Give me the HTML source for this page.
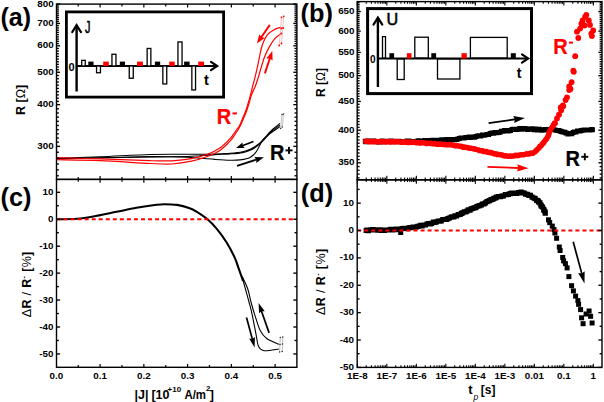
<!DOCTYPE html><html><head><meta charset="utf-8"><style>html,body{margin:0;padding:0;background:#fff;}svg{display:block;font-family:"Liberation Sans",sans-serif;}</style></head><body>
<svg width="604" height="402" viewBox="0 0 604 402" font-family="Liberation Sans, sans-serif">
<rect width="604" height="402" fill="#fff"/>
<path d="M57.00,158.40 C64.17,158.13 84.50,157.45 100.00,156.80 C115.50,156.15 136.67,154.93 150.00,154.50 C163.33,154.07 171.67,154.23 180.00,154.20 C188.33,154.17 194.17,154.33 200.00,154.30 C205.83,154.27 210.00,154.17 215.00,154.00 C220.00,153.83 225.42,153.67 230.00,153.30 C234.58,152.93 238.97,152.55 242.50,151.80 C246.03,151.05 249.03,149.72 251.20,148.80 C253.37,147.88 254.10,147.25 255.50,146.30 C256.90,145.35 258.42,144.10 259.60,143.10 C260.78,142.10 261.45,141.50 262.60,140.30 C263.75,139.10 265.27,137.28 266.50,135.90 C267.73,134.52 268.82,133.23 270.00,132.00 C271.18,130.77 271.93,129.93 273.60,128.50 C275.27,127.07 278.93,124.25 280.00,123.40" fill="none" stroke="#000" stroke-width="1.1"/>
<path d="M57.00,158.70 C64.17,158.53 84.50,158.05 100.00,157.70 C115.50,157.35 136.67,156.75 150.00,156.60 C163.33,156.45 171.67,156.95 180.00,156.80 C188.33,156.65 194.17,156.07 200.00,155.70 C205.83,155.33 210.00,154.90 215.00,154.60 C220.00,154.30 225.42,154.23 230.00,153.90 C234.58,153.57 238.97,153.30 242.50,152.60 C246.03,151.90 249.03,150.60 251.20,149.70 C253.37,148.80 254.10,148.15 255.50,147.20 C256.90,146.25 258.42,145.00 259.60,144.00 C260.78,143.00 261.45,142.37 262.60,141.20 C263.75,140.03 265.27,138.33 266.50,137.00 C267.73,135.67 268.82,134.40 270.00,133.20 C271.18,132.00 271.93,131.17 273.60,129.80 C275.27,128.43 278.93,125.80 280.00,125.00" fill="none" stroke="#000" stroke-width="1.1"/>
<path d="M57.00,159.00 C64.17,158.83 84.50,158.33 100.00,158.00 C115.50,157.67 136.67,157.18 150.00,157.00 C163.33,156.82 171.67,156.70 180.00,156.90 C188.33,157.10 194.17,157.78 200.00,158.20 C205.83,158.62 210.00,159.07 215.00,159.40 C220.00,159.73 225.83,160.12 230.00,160.20 C234.17,160.28 237.10,160.18 240.00,159.90 C242.90,159.62 245.57,159.02 247.40,158.50 C249.23,157.98 249.85,157.53 251.00,156.80 C252.15,156.07 253.27,155.20 254.30,154.10 C255.33,153.00 256.32,151.62 257.20,150.20 C258.08,148.78 258.88,146.93 259.60,145.60 C260.32,144.27 260.77,143.37 261.50,142.20 C262.23,141.03 262.60,140.03 264.00,138.60 C265.40,137.17 268.07,135.03 269.90,133.60 C271.73,132.17 273.32,131.17 275.00,130.00 C276.68,128.83 279.17,127.17 280.00,126.60" fill="none" stroke="#000" stroke-width="1.1"/>
<path d="M57.00,157.70 C64.17,157.90 84.50,158.40 100.00,158.90 C115.50,159.40 138.00,160.38 150.00,160.70 C162.00,161.02 165.10,161.13 172.00,160.80 C178.90,160.47 185.40,159.83 191.40,158.70 C197.40,157.57 203.32,155.75 208.00,154.00 C212.68,152.25 216.00,150.58 219.50,148.20 C223.00,145.82 226.67,142.03 229.00,139.70 C231.33,137.37 232.27,135.82 233.50,134.20 C234.73,132.58 235.43,131.37 236.40,130.00 C237.37,128.63 238.30,127.83 239.30,126.00 C240.30,124.17 241.40,121.33 242.40,119.00 C243.40,116.67 244.35,114.58 245.30,112.00 C246.25,109.42 247.23,106.37 248.10,103.50 C248.97,100.63 249.73,97.72 250.50,94.80 C251.27,91.88 251.95,88.90 252.70,86.00 C253.45,83.10 254.22,80.53 255.00,77.40 C255.78,74.27 256.58,70.97 257.40,67.20 C258.22,63.43 259.07,58.53 259.90,54.80 C260.73,51.07 261.17,48.12 262.40,44.80 C263.63,41.48 265.23,37.47 267.30,34.90 C269.37,32.33 272.52,30.65 274.80,29.40 C277.08,28.15 279.97,27.73 281.00,27.40" fill="none" stroke="#f00" stroke-width="1.2"/>
<path d="M57.00,159.70 C64.17,159.85 84.50,159.97 100.00,160.60 C115.50,161.23 138.00,162.93 150.00,163.50 C162.00,164.07 165.10,164.38 172.00,164.00 C178.90,163.62 185.40,162.50 191.40,161.20 C197.40,159.90 203.32,157.95 208.00,156.20 C212.68,154.45 216.00,153.03 219.50,150.70 C223.00,148.37 226.67,144.53 229.00,142.20 C231.33,139.87 232.13,138.57 233.50,136.70 C234.87,134.83 236.08,132.78 237.20,131.00 C238.32,129.22 239.18,128.00 240.20,126.00 C241.22,124.00 242.30,121.33 243.30,119.00 C244.30,116.67 245.25,114.58 246.20,112.00 C247.15,109.42 248.12,106.37 249.00,103.50 C249.88,100.63 250.43,97.72 251.50,94.80 C252.57,91.88 254.27,88.90 255.40,86.00 C256.53,83.10 257.45,80.12 258.30,77.40 C259.15,74.68 259.40,73.27 260.50,69.70 C261.60,66.13 263.35,59.93 264.90,56.00 C266.45,52.07 268.15,49.00 269.80,46.10 C271.45,43.20 272.93,40.68 274.80,38.60 C276.67,36.52 279.97,34.43 281.00,33.60" fill="none" stroke="#f00" stroke-width="1.2"/>
<line x1="281.50" y1="17.30" x2="279.20" y2="45.50" stroke="#f2b8b8" stroke-width="0.9" />
<line x1="283.70" y1="16.30" x2="281.50" y2="43.50" stroke="#f2b8b8" stroke-width="0.9" />
<circle cx="281.5" cy="17.3" r="0.9" fill="#f00"/>
<circle cx="279.2" cy="45.5" r="0.9" fill="#f00"/>
<circle cx="283.7" cy="16.3" r="0.9" fill="#f00"/>
<circle cx="281.5" cy="43.5" r="0.9" fill="#f00"/>
<circle cx="281.4" cy="28.5" r="0.9" fill="#f00"/>
<circle cx="283.2" cy="28.0" r="0.9" fill="#f00"/>
<circle cx="281.3" cy="33.5" r="0.9" fill="#f00"/>
<line x1="282.00" y1="114.50" x2="280.60" y2="128.50" stroke="#bbb" stroke-width="0.9" />
<line x1="283.60" y1="114.00" x2="282.30" y2="127.00" stroke="#bbb" stroke-width="0.9" />
<circle cx="282.0" cy="114.5" r="0.8" fill="#333"/>
<circle cx="280.6" cy="128.5" r="0.8" fill="#333"/>
<circle cx="283.6" cy="114.0" r="0.8" fill="#333"/>
<circle cx="282.3" cy="127.0" r="0.8" fill="#333"/>
<line x1="253.50" y1="141.50" x2="242.23" y2="145.71" stroke="#000" stroke-width="1.7" />
<polygon points="236.10,148.00 242.54,142.39 242.69,145.54 244.64,148.01" fill="#000"/>
<line x1="237.00" y1="165.90" x2="256.84" y2="159.48" stroke="#000" stroke-width="1.7" />
<polygon points="263.90,157.20 256.29,162.92 256.36,159.64 254.38,157.02" fill="#000"/>
<line x1="269.80" y1="24.90" x2="261.11" y2="37.49" stroke="#f00" stroke-width="1.9" />
<polygon points="256.90,43.60 259.29,34.32 261.40,37.08 264.73,38.07" fill="#f00"/>
<line x1="264.90" y1="73.40" x2="269.97" y2="58.05" stroke="#f00" stroke-width="1.9" />
<polygon points="272.30,51.00 272.61,60.58 269.82,58.52 266.34,58.51" fill="#f00"/>
<path d="M57.00,219.20 C60.32,219.13 70.27,219.37 76.90,218.80 C83.53,218.23 90.18,216.97 96.80,215.80 C103.42,214.63 109.98,213.13 116.60,211.80 C123.22,210.47 129.87,208.97 136.50,207.80 C143.13,206.63 151.75,205.40 156.40,204.80 C161.05,204.20 160.97,204.18 164.40,204.20 C167.83,204.22 172.90,204.28 177.00,204.90 C181.10,205.52 185.68,206.75 189.00,207.90 C192.32,209.05 193.92,209.98 196.90,211.80 C199.88,213.62 203.58,215.97 206.90,218.80 C210.22,221.63 213.48,224.82 216.80,228.80 C220.12,232.78 223.82,237.90 226.80,242.70 C229.78,247.50 232.75,253.38 234.70,257.60 C236.65,261.82 237.37,264.85 238.50,268.00 C239.63,271.15 240.75,274.33 241.50,276.50 C242.25,278.67 242.75,280.25 243.00,281.00" fill="none" stroke="#000" stroke-width="2.1"/>
<path d="M241.90,276.50 C242.15,277.33 242.77,279.25 243.40,281.50 C244.03,283.75 244.77,286.58 245.70,290.00 C246.63,293.42 247.93,297.95 249.00,302.00 C250.07,306.05 250.90,308.75 252.10,314.30 C253.30,319.85 255.12,329.92 256.20,335.30 C257.28,340.68 257.25,344.03 258.60,346.60 C259.95,349.17 260.93,350.30 264.30,350.70 C267.67,351.10 276.38,349.28 278.80,349.00" fill="none" stroke="#000" stroke-width="1.1"/>
<path d="M242.30,276.50 C242.68,277.33 243.63,279.25 244.60,281.50 C245.57,283.75 247.03,286.58 248.10,290.00 C249.17,293.42 249.92,297.95 251.00,302.00 C252.08,306.05 253.07,309.55 254.60,314.30 C256.13,319.05 258.18,326.47 260.20,330.50 C262.22,334.53 263.60,336.22 266.70,338.50 C269.80,340.78 276.78,343.25 278.80,344.20" fill="none" stroke="#000" stroke-width="1.1"/>
<line x1="280.30" y1="337.50" x2="279.60" y2="352.00" stroke="#bbb" stroke-width="0.9" />
<line x1="282.80" y1="337.00" x2="282.20" y2="351.50" stroke="#bbb" stroke-width="0.9" />
<circle cx="280.3" cy="337.5" r="0.8" fill="#333"/>
<circle cx="279.6" cy="352.0" r="0.8" fill="#333"/>
<circle cx="282.8" cy="337.0" r="0.8" fill="#333"/>
<circle cx="282.2" cy="351.5" r="0.8" fill="#333"/>
<circle cx="280.0" cy="344.5" r="0.8" fill="#333"/>
<circle cx="282.5" cy="344.0" r="0.8" fill="#333"/>
<line x1="246.50" y1="317.50" x2="252.43" y2="339.39" stroke="#000" stroke-width="1.7" />
<polygon points="254.60,347.40 249.09,338.53 252.30,338.91 254.88,336.96" fill="#000"/>
<line x1="269.10" y1="332.90" x2="261.34" y2="310.73" stroke="#000" stroke-width="1.7" />
<polygon points="258.60,302.90 264.74,311.35 261.51,311.21 259.07,313.33" fill="#000"/>
<path d="M362.8,138.8h5.0v5.0h-5.0zM363.6,139.2h5.0v5.0h-5.0zM364.7,139.0h5.0v5.0h-5.0zM365.9,138.5h5.0v5.0h-5.0zM367.1,138.5h5.0v5.0h-5.0zM368.2,138.5h5.0v5.0h-5.0zM370.1,138.9h5.0v5.0h-5.0zM371.3,138.6h5.0v5.0h-5.0zM373.3,139.2h5.0v5.0h-5.0zM374.6,139.1h5.0v5.0h-5.0zM376.1,139.5h5.0v5.0h-5.0zM378.0,139.4h5.0v5.0h-5.0zM379.7,138.6h5.0v5.0h-5.0zM381.8,138.8h5.0v5.0h-5.0zM383.5,138.7h5.0v5.0h-5.0zM385.1,139.2h5.0v5.0h-5.0zM386.7,139.1h5.0v5.0h-5.0zM388.5,138.5h5.0v5.0h-5.0zM390.3,139.2h5.0v5.0h-5.0zM392.0,138.8h5.0v5.0h-5.0zM393.3,139.0h5.0v5.0h-5.0zM395.0,139.3h5.0v5.0h-5.0zM396.3,138.7h5.0v5.0h-5.0zM397.7,139.0h5.0v5.0h-5.0zM399.4,139.2h5.0v5.0h-5.0zM401.2,139.5h5.0v5.0h-5.0zM403.2,138.9h5.0v5.0h-5.0zM404.7,138.6h5.0v5.0h-5.0zM406.3,138.4h5.0v5.0h-5.0zM407.7,139.2h5.0v5.0h-5.0zM409.0,139.3h5.0v5.0h-5.0zM410.5,139.1h5.0v5.0h-5.0zM411.8,138.9h5.0v5.0h-5.0zM413.4,139.2h5.0v5.0h-5.0zM414.7,138.8h5.0v5.0h-5.0zM416.1,138.3h5.0v5.0h-5.0zM417.8,138.9h5.0v5.0h-5.0zM418.9,139.0h5.0v5.0h-5.0zM420.7,138.5h5.0v5.0h-5.0zM422.2,138.0h5.0v5.0h-5.0zM423.7,138.1h5.0v5.0h-5.0zM425.7,137.9h5.0v5.0h-5.0zM427.0,137.9h5.0v5.0h-5.0zM428.9,138.1h5.0v5.0h-5.0zM430.3,137.7h5.0v5.0h-5.0zM432.1,138.1h5.0v5.0h-5.0zM433.6,138.4h5.0v5.0h-5.0zM434.8,137.7h5.0v5.0h-5.0zM436.4,137.7h5.0v5.0h-5.0zM437.3,138.3h5.0v5.0h-5.0zM439.3,137.3h5.0v5.0h-5.0zM441.2,137.3h5.0v5.0h-5.0zM442.8,137.6h5.0v5.0h-5.0zM444.4,136.9h5.0v5.0h-5.0zM446.0,137.2h5.0v5.0h-5.0zM447.5,137.7h5.0v5.0h-5.0zM449.0,137.1h5.0v5.0h-5.0zM450.3,137.2h5.0v5.0h-5.0zM452.3,137.3h5.0v5.0h-5.0zM453.9,137.1h5.0v5.0h-5.0zM455.3,136.4h5.0v5.0h-5.0zM457.0,135.9h5.0v5.0h-5.0zM458.4,135.6h5.0v5.0h-5.0zM460.0,135.6h5.0v5.0h-5.0zM461.6,135.5h5.0v5.0h-5.0zM463.3,135.0h5.0v5.0h-5.0zM464.9,134.9h5.0v5.0h-5.0zM466.5,134.6h5.0v5.0h-5.0zM467.5,135.1h5.0v5.0h-5.0zM469.0,134.5h5.0v5.0h-5.0zM470.3,134.4h5.0v5.0h-5.0zM472.2,134.7h5.0v5.0h-5.0zM473.5,134.1h5.0v5.0h-5.0zM475.0,133.4h5.0v5.0h-5.0zM476.9,133.3h5.0v5.0h-5.0zM478.2,133.6h5.0v5.0h-5.0zM480.0,132.4h5.0v5.0h-5.0zM481.1,132.7h5.0v5.0h-5.0zM482.5,132.4h5.0v5.0h-5.0zM484.6,132.1h5.0v5.0h-5.0zM486.1,132.1h5.0v5.0h-5.0zM487.6,131.1h5.0v5.0h-5.0zM489.4,130.6h5.0v5.0h-5.0zM491.1,130.7h5.0v5.0h-5.0zM492.4,130.1h5.0v5.0h-5.0zM494.5,130.3h5.0v5.0h-5.0zM496.0,130.1h5.0v5.0h-5.0zM497.5,129.8h5.0v5.0h-5.0zM499.0,128.8h5.0v5.0h-5.0zM500.2,128.7h5.0v5.0h-5.0zM501.9,128.0h5.0v5.0h-5.0zM503.6,128.0h5.0v5.0h-5.0zM505.0,128.5h5.0v5.0h-5.0zM506.8,128.2h5.0v5.0h-5.0zM508.0,128.0h5.0v5.0h-5.0zM509.5,126.9h5.0v5.0h-5.0zM511.0,126.7h5.0v5.0h-5.0zM512.9,127.0h5.0v5.0h-5.0zM514.1,127.0h5.0v5.0h-5.0zM515.8,126.7h5.0v5.0h-5.0zM517.3,125.9h5.0v5.0h-5.0zM518.9,126.8h5.0v5.0h-5.0zM520.3,126.6h5.0v5.0h-5.0zM522.1,126.0h5.0v5.0h-5.0zM523.7,126.2h5.0v5.0h-5.0zM525.1,126.9h5.0v5.0h-5.0zM527.0,126.4h5.0v5.0h-5.0zM528.2,126.8h5.0v5.0h-5.0zM529.7,126.3h5.0v5.0h-5.0zM531.6,127.2h5.0v5.0h-5.0zM533.1,126.5h5.0v5.0h-5.0zM534.5,127.5h5.0v5.0h-5.0zM535.8,126.9h5.0v5.0h-5.0zM536.8,126.7h5.0v5.0h-5.0zM539.2,127.7h5.0v5.0h-5.0zM541.3,127.2h5.0v5.0h-5.0zM543.0,127.1h5.0v5.0h-5.0zM544.3,127.6h5.0v5.0h-5.0zM546.0,127.0h5.0v5.0h-5.0zM547.6,127.0h5.0v5.0h-5.0zM548.9,127.1h5.0v5.0h-5.0zM550.5,127.0h5.0v5.0h-5.0zM552.5,127.4h5.0v5.0h-5.0zM554.6,127.9h5.0v5.0h-5.0zM556.2,128.0h5.0v5.0h-5.0zM557.5,128.5h5.0v5.0h-5.0zM558.8,129.1h5.0v5.0h-5.0zM560.4,129.6h5.0v5.0h-5.0zM562.2,129.8h5.0v5.0h-5.0zM563.5,130.4h5.0v5.0h-5.0zM565.5,131.4h5.0v5.0h-5.0zM567.3,131.1h5.0v5.0h-5.0zM569.3,131.2h5.0v5.0h-5.0zM570.7,130.1h5.0v5.0h-5.0zM572.0,129.5h5.0v5.0h-5.0zM573.5,129.4h5.0v5.0h-5.0zM575.1,128.6h5.0v5.0h-5.0zM577.5,128.5h5.0v5.0h-5.0zM578.8,128.0h5.0v5.0h-5.0zM580.4,127.7h5.0v5.0h-5.0zM582.2,127.5h5.0v5.0h-5.0zM584.3,127.4h5.0v5.0h-5.0zM586.1,127.5h5.0v5.0h-5.0zM587.5,127.6h5.0v5.0h-5.0zM589.3,127.1h5.0v5.0h-5.0zM589.9,127.3h5.0v5.0h-5.0z" fill="#000"/>
<path d="M363.0,141.3a2.8,2.8 0 1,0 5.6,0a2.8,2.8 0 1,0 -5.6,0zM363.8,141.3a2.8,2.8 0 1,0 5.6,0a2.8,2.8 0 1,0 -5.6,0zM364.9,141.3a2.8,2.8 0 1,0 5.6,0a2.8,2.8 0 1,0 -5.6,0zM366.1,141.7a2.8,2.8 0 1,0 5.6,0a2.8,2.8 0 1,0 -5.6,0zM367.3,141.3a2.8,2.8 0 1,0 5.6,0a2.8,2.8 0 1,0 -5.6,0zM368.5,141.7a2.8,2.8 0 1,0 5.6,0a2.8,2.8 0 1,0 -5.6,0zM370.2,141.8a2.8,2.8 0 1,0 5.6,0a2.8,2.8 0 1,0 -5.6,0zM371.8,141.4a2.8,2.8 0 1,0 5.6,0a2.8,2.8 0 1,0 -5.6,0zM373.2,141.6a2.8,2.8 0 1,0 5.6,0a2.8,2.8 0 1,0 -5.6,0zM375.0,141.9a2.8,2.8 0 1,0 5.6,0a2.8,2.8 0 1,0 -5.6,0zM376.6,141.5a2.8,2.8 0 1,0 5.6,0a2.8,2.8 0 1,0 -5.6,0zM378.4,141.7a2.8,2.8 0 1,0 5.6,0a2.8,2.8 0 1,0 -5.6,0zM380.2,141.5a2.8,2.8 0 1,0 5.6,0a2.8,2.8 0 1,0 -5.6,0zM381.9,141.9a2.8,2.8 0 1,0 5.6,0a2.8,2.8 0 1,0 -5.6,0zM383.9,141.8a2.8,2.8 0 1,0 5.6,0a2.8,2.8 0 1,0 -5.6,0zM385.7,141.5a2.8,2.8 0 1,0 5.6,0a2.8,2.8 0 1,0 -5.6,0zM387.5,141.9a2.8,2.8 0 1,0 5.6,0a2.8,2.8 0 1,0 -5.6,0zM389.4,141.6a2.8,2.8 0 1,0 5.6,0a2.8,2.8 0 1,0 -5.6,0zM391.1,142.0a2.8,2.8 0 1,0 5.6,0a2.8,2.8 0 1,0 -5.6,0zM392.6,141.7a2.8,2.8 0 1,0 5.6,0a2.8,2.8 0 1,0 -5.6,0zM394.3,141.7a2.8,2.8 0 1,0 5.6,0a2.8,2.8 0 1,0 -5.6,0zM395.7,141.8a2.8,2.8 0 1,0 5.6,0a2.8,2.8 0 1,0 -5.6,0zM397.3,142.0a2.8,2.8 0 1,0 5.6,0a2.8,2.8 0 1,0 -5.6,0zM398.9,142.2a2.8,2.8 0 1,0 5.6,0a2.8,2.8 0 1,0 -5.6,0zM400.8,141.9a2.8,2.8 0 1,0 5.6,0a2.8,2.8 0 1,0 -5.6,0zM402.4,142.2a2.8,2.8 0 1,0 5.6,0a2.8,2.8 0 1,0 -5.6,0zM403.8,142.0a2.8,2.8 0 1,0 5.6,0a2.8,2.8 0 1,0 -5.6,0zM405.5,142.4a2.8,2.8 0 1,0 5.6,0a2.8,2.8 0 1,0 -5.6,0zM407.3,142.1a2.8,2.8 0 1,0 5.6,0a2.8,2.8 0 1,0 -5.6,0zM408.8,142.5a2.8,2.8 0 1,0 5.6,0a2.8,2.8 0 1,0 -5.6,0zM410.3,142.2a2.8,2.8 0 1,0 5.6,0a2.8,2.8 0 1,0 -5.6,0zM411.8,142.3a2.8,2.8 0 1,0 5.6,0a2.8,2.8 0 1,0 -5.6,0zM413.1,142.6a2.8,2.8 0 1,0 5.6,0a2.8,2.8 0 1,0 -5.6,0zM414.8,142.7a2.8,2.8 0 1,0 5.6,0a2.8,2.8 0 1,0 -5.6,0zM416.0,142.6a2.8,2.8 0 1,0 5.6,0a2.8,2.8 0 1,0 -5.6,0zM417.5,142.9a2.8,2.8 0 1,0 5.6,0a2.8,2.8 0 1,0 -5.6,0zM419.0,142.7a2.8,2.8 0 1,0 5.6,0a2.8,2.8 0 1,0 -5.6,0zM420.5,142.7a2.8,2.8 0 1,0 5.6,0a2.8,2.8 0 1,0 -5.6,0zM422.1,143.0a2.8,2.8 0 1,0 5.6,0a2.8,2.8 0 1,0 -5.6,0zM423.6,143.4a2.8,2.8 0 1,0 5.6,0a2.8,2.8 0 1,0 -5.6,0zM425.2,143.3a2.8,2.8 0 1,0 5.6,0a2.8,2.8 0 1,0 -5.6,0zM426.8,143.3a2.8,2.8 0 1,0 5.6,0a2.8,2.8 0 1,0 -5.6,0zM428.4,143.4a2.8,2.8 0 1,0 5.6,0a2.8,2.8 0 1,0 -5.6,0zM430.2,143.8a2.8,2.8 0 1,0 5.6,0a2.8,2.8 0 1,0 -5.6,0zM431.9,143.6a2.8,2.8 0 1,0 5.6,0a2.8,2.8 0 1,0 -5.6,0zM433.5,144.1a2.8,2.8 0 1,0 5.6,0a2.8,2.8 0 1,0 -5.6,0zM435.3,144.2a2.8,2.8 0 1,0 5.6,0a2.8,2.8 0 1,0 -5.6,0zM437.1,144.1a2.8,2.8 0 1,0 5.6,0a2.8,2.8 0 1,0 -5.6,0zM438.6,144.2a2.8,2.8 0 1,0 5.6,0a2.8,2.8 0 1,0 -5.6,0zM440.4,144.5a2.8,2.8 0 1,0 5.6,0a2.8,2.8 0 1,0 -5.6,0zM441.9,144.4a2.8,2.8 0 1,0 5.6,0a2.8,2.8 0 1,0 -5.6,0zM443.4,144.8a2.8,2.8 0 1,0 5.6,0a2.8,2.8 0 1,0 -5.6,0zM444.8,144.7a2.8,2.8 0 1,0 5.6,0a2.8,2.8 0 1,0 -5.6,0zM446.2,144.6a2.8,2.8 0 1,0 5.6,0a2.8,2.8 0 1,0 -5.6,0zM447.8,144.8a2.8,2.8 0 1,0 5.6,0a2.8,2.8 0 1,0 -5.6,0zM448.9,145.0a2.8,2.8 0 1,0 5.6,0a2.8,2.8 0 1,0 -5.6,0zM450.3,145.1a2.8,2.8 0 1,0 5.6,0a2.8,2.8 0 1,0 -5.6,0zM452.5,145.8a2.8,2.8 0 1,0 5.6,0a2.8,2.8 0 1,0 -5.6,0zM454.4,145.7a2.8,2.8 0 1,0 5.6,0a2.8,2.8 0 1,0 -5.6,0zM456.1,146.0a2.8,2.8 0 1,0 5.6,0a2.8,2.8 0 1,0 -5.6,0zM457.6,146.2a2.8,2.8 0 1,0 5.6,0a2.8,2.8 0 1,0 -5.6,0zM459.2,146.6a2.8,2.8 0 1,0 5.6,0a2.8,2.8 0 1,0 -5.6,0zM460.4,147.3a2.8,2.8 0 1,0 5.6,0a2.8,2.8 0 1,0 -5.6,0zM462.0,147.1a2.8,2.8 0 1,0 5.6,0a2.8,2.8 0 1,0 -5.6,0zM463.4,147.5a2.8,2.8 0 1,0 5.6,0a2.8,2.8 0 1,0 -5.6,0zM464.9,147.6a2.8,2.8 0 1,0 5.6,0a2.8,2.8 0 1,0 -5.6,0zM466.4,148.1a2.8,2.8 0 1,0 5.6,0a2.8,2.8 0 1,0 -5.6,0zM467.9,148.3a2.8,2.8 0 1,0 5.6,0a2.8,2.8 0 1,0 -5.6,0zM469.4,148.5a2.8,2.8 0 1,0 5.6,0a2.8,2.8 0 1,0 -5.6,0zM471.0,148.8a2.8,2.8 0 1,0 5.6,0a2.8,2.8 0 1,0 -5.6,0zM472.3,149.1a2.8,2.8 0 1,0 5.6,0a2.8,2.8 0 1,0 -5.6,0zM473.9,149.5a2.8,2.8 0 1,0 5.6,0a2.8,2.8 0 1,0 -5.6,0zM475.4,150.0a2.8,2.8 0 1,0 5.6,0a2.8,2.8 0 1,0 -5.6,0zM476.7,150.4a2.8,2.8 0 1,0 5.6,0a2.8,2.8 0 1,0 -5.6,0zM478.4,150.7a2.8,2.8 0 1,0 5.6,0a2.8,2.8 0 1,0 -5.6,0zM479.6,150.8a2.8,2.8 0 1,0 5.6,0a2.8,2.8 0 1,0 -5.6,0zM480.9,151.4a2.8,2.8 0 1,0 5.6,0a2.8,2.8 0 1,0 -5.6,0zM482.4,151.6a2.8,2.8 0 1,0 5.6,0a2.8,2.8 0 1,0 -5.6,0zM483.8,151.5a2.8,2.8 0 1,0 5.6,0a2.8,2.8 0 1,0 -5.6,0zM485.3,152.3a2.8,2.8 0 1,0 5.6,0a2.8,2.8 0 1,0 -5.6,0zM487.2,152.6a2.8,2.8 0 1,0 5.6,0a2.8,2.8 0 1,0 -5.6,0zM488.4,152.6a2.8,2.8 0 1,0 5.6,0a2.8,2.8 0 1,0 -5.6,0zM489.9,153.1a2.8,2.8 0 1,0 5.6,0a2.8,2.8 0 1,0 -5.6,0zM491.4,153.7a2.8,2.8 0 1,0 5.6,0a2.8,2.8 0 1,0 -5.6,0zM493.0,153.9a2.8,2.8 0 1,0 5.6,0a2.8,2.8 0 1,0 -5.6,0zM494.6,154.4a2.8,2.8 0 1,0 5.6,0a2.8,2.8 0 1,0 -5.6,0zM496.0,154.5a2.8,2.8 0 1,0 5.6,0a2.8,2.8 0 1,0 -5.6,0zM497.8,154.8a2.8,2.8 0 1,0 5.6,0a2.8,2.8 0 1,0 -5.6,0zM499.6,155.1a2.8,2.8 0 1,0 5.6,0a2.8,2.8 0 1,0 -5.6,0zM501.2,155.7a2.8,2.8 0 1,0 5.6,0a2.8,2.8 0 1,0 -5.6,0zM502.8,155.9a2.8,2.8 0 1,0 5.6,0a2.8,2.8 0 1,0 -5.6,0zM504.2,156.0a2.8,2.8 0 1,0 5.6,0a2.8,2.8 0 1,0 -5.6,0zM506.0,156.2a2.8,2.8 0 1,0 5.6,0a2.8,2.8 0 1,0 -5.6,0zM507.7,156.0a2.8,2.8 0 1,0 5.6,0a2.8,2.8 0 1,0 -5.6,0zM509.2,156.1a2.8,2.8 0 1,0 5.6,0a2.8,2.8 0 1,0 -5.6,0zM510.9,156.0a2.8,2.8 0 1,0 5.6,0a2.8,2.8 0 1,0 -5.6,0zM512.6,155.4a2.8,2.8 0 1,0 5.6,0a2.8,2.8 0 1,0 -5.6,0zM514.2,155.6a2.8,2.8 0 1,0 5.6,0a2.8,2.8 0 1,0 -5.6,0zM516.0,155.4a2.8,2.8 0 1,0 5.6,0a2.8,2.8 0 1,0 -5.6,0zM517.3,155.0a2.8,2.8 0 1,0 5.6,0a2.8,2.8 0 1,0 -5.6,0zM518.9,154.8a2.8,2.8 0 1,0 5.6,0a2.8,2.8 0 1,0 -5.6,0zM520.2,154.8a2.8,2.8 0 1,0 5.6,0a2.8,2.8 0 1,0 -5.6,0zM521.9,154.5a2.8,2.8 0 1,0 5.6,0a2.8,2.8 0 1,0 -5.6,0zM523.7,153.9a2.8,2.8 0 1,0 5.6,0a2.8,2.8 0 1,0 -5.6,0zM525.3,154.1a2.8,2.8 0 1,0 5.6,0a2.8,2.8 0 1,0 -5.6,0zM526.8,153.7a2.8,2.8 0 1,0 5.6,0a2.8,2.8 0 1,0 -5.6,0zM528.2,153.1a2.8,2.8 0 1,0 5.6,0a2.8,2.8 0 1,0 -5.6,0zM529.7,153.2a2.8,2.8 0 1,0 5.6,0a2.8,2.8 0 1,0 -5.6,0zM530.7,152.7a2.8,2.8 0 1,0 5.6,0a2.8,2.8 0 1,0 -5.6,0zM532.5,151.6a2.8,2.8 0 1,0 5.6,0a2.8,2.8 0 1,0 -5.6,0zM533.7,150.3a2.8,2.8 0 1,0 5.6,0a2.8,2.8 0 1,0 -5.6,0zM534.8,149.2a2.8,2.8 0 1,0 5.6,0a2.8,2.8 0 1,0 -5.6,0zM536.2,147.9a2.8,2.8 0 1,0 5.6,0a2.8,2.8 0 1,0 -5.6,0zM537.2,146.2a2.8,2.8 0 1,0 5.6,0a2.8,2.8 0 1,0 -5.6,0zM538.5,145.6a2.8,2.8 0 1,0 5.6,0a2.8,2.8 0 1,0 -5.6,0zM539.4,144.2a2.8,2.8 0 1,0 5.6,0a2.8,2.8 0 1,0 -5.6,0zM540.6,142.9a2.8,2.8 0 1,0 5.6,0a2.8,2.8 0 1,0 -5.6,0zM541.4,141.8a2.8,2.8 0 1,0 5.6,0a2.8,2.8 0 1,0 -5.6,0zM542.7,140.1a2.8,2.8 0 1,0 5.6,0a2.8,2.8 0 1,0 -5.6,0zM543.6,139.1a2.8,2.8 0 1,0 5.6,0a2.8,2.8 0 1,0 -5.6,0zM544.7,137.2a2.8,2.8 0 1,0 5.6,0a2.8,2.8 0 1,0 -5.6,0zM545.4,136.0a2.8,2.8 0 1,0 5.6,0a2.8,2.8 0 1,0 -5.6,0zM546.0,134.2a2.8,2.8 0 1,0 5.6,0a2.8,2.8 0 1,0 -5.6,0zM546.3,132.9a2.8,2.8 0 1,0 5.6,0a2.8,2.8 0 1,0 -5.6,0zM547.1,131.1a2.8,2.8 0 1,0 5.6,0a2.8,2.8 0 1,0 -5.6,0zM547.7,130.0a2.8,2.8 0 1,0 5.6,0a2.8,2.8 0 1,0 -5.6,0zM548.6,128.3a2.8,2.8 0 1,0 5.6,0a2.8,2.8 0 1,0 -5.6,0zM549.7,126.8a2.8,2.8 0 1,0 5.6,0a2.8,2.8 0 1,0 -5.6,0zM550.6,125.1a2.8,2.8 0 1,0 5.6,0a2.8,2.8 0 1,0 -5.6,0zM551.3,124.3a2.8,2.8 0 1,0 5.6,0a2.8,2.8 0 1,0 -5.6,0zM552.1,123.5a2.8,2.8 0 1,0 5.6,0a2.8,2.8 0 1,0 -5.6,0z" fill="#f00"/>
<circle cx="554.8" cy="123.1" r="2.9" fill="#f00"/>
<circle cx="557" cy="118.5" r="2.9" fill="#f00"/>
<circle cx="559" cy="114.7" r="2.9" fill="#f00"/>
<circle cx="561.2" cy="110.3" r="2.9" fill="#f00"/>
<circle cx="563.2" cy="106.3" r="2.9" fill="#f00"/>
<circle cx="560.7" cy="107.4" r="2.9" fill="#f00"/>
<circle cx="562.9" cy="105.5" r="2.9" fill="#f00"/>
<circle cx="565.6" cy="100" r="2.9" fill="#f00"/>
<circle cx="567" cy="97.3" r="2.9" fill="#f00"/>
<circle cx="569.2" cy="90" r="2.9" fill="#f00"/>
<circle cx="570.5" cy="89" r="2.9" fill="#f00"/>
<circle cx="569.2" cy="86.3" r="2.9" fill="#f00"/>
<circle cx="571.6" cy="82.2" r="2.9" fill="#f00"/>
<circle cx="573.3" cy="70.7" r="2.9" fill="#f00"/>
<circle cx="573.8" cy="71.8" r="2.9" fill="#f00"/>
<circle cx="575.2" cy="56.2" r="2.9" fill="#f00"/>
<circle cx="578.3" cy="38" r="2.9" fill="#f00"/>
<circle cx="577" cy="31.7" r="2.9" fill="#f00"/>
<circle cx="580.1" cy="28.6" r="2.9" fill="#f00"/>
<circle cx="584.5" cy="25.5" r="2.9" fill="#f00"/>
<circle cx="581.4" cy="23.7" r="2.9" fill="#f00"/>
<circle cx="582.6" cy="20.5" r="2.9" fill="#f00"/>
<circle cx="585.1" cy="16.8" r="2.9" fill="#f00"/>
<circle cx="586.3" cy="15" r="2.9" fill="#f00"/>
<circle cx="588.8" cy="20.5" r="2.9" fill="#f00"/>
<circle cx="590" cy="24.9" r="2.9" fill="#f00"/>
<circle cx="593.2" cy="30.5" r="2.9" fill="#f00"/>
<circle cx="591.3" cy="33.6" r="2.9" fill="#f00"/>
<circle cx="591.9" cy="36.1" r="2.9" fill="#f00"/>
<line x1="488.60" y1="123.10" x2="515.48" y2="119.26" stroke="#000" stroke-width="1.8" />
<polygon points="525.00,117.90 514.12,123.09 514.98,119.33 513.11,115.96" fill="#000"/>
<line x1="487.50" y1="166.90" x2="518.89" y2="167.97" stroke="#f00" stroke-width="1.9" />
<polygon points="528.50,168.30 516.88,171.51 518.39,167.95 517.13,164.31" fill="#f00"/>
<path d="M363.6,227.9h5.2v5.2h-5.2zM364.5,227.4h5.2v5.2h-5.2zM365.7,228.0h5.2v5.2h-5.2zM367.0,227.4h5.2v5.2h-5.2zM368.2,227.3h5.2v5.2h-5.2zM370.2,227.1h5.2v5.2h-5.2zM372.0,227.3h5.2v5.2h-5.2zM373.5,227.2h5.2v5.2h-5.2zM375.3,227.5h5.2v5.2h-5.2zM377.6,227.3h5.2v5.2h-5.2zM378.9,227.7h5.2v5.2h-5.2zM380.5,227.4h5.2v5.2h-5.2zM381.8,227.7h5.2v5.2h-5.2zM383.2,227.4h5.2v5.2h-5.2zM385.0,227.4h5.2v5.2h-5.2zM386.8,227.3h5.2v5.2h-5.2zM388.2,226.8h5.2v5.2h-5.2zM390.0,227.3h5.2v5.2h-5.2zM391.8,226.8h5.2v5.2h-5.2zM393.6,226.5h5.2v5.2h-5.2zM395.0,227.1h5.2v5.2h-5.2zM396.5,226.7h5.2v5.2h-5.2zM398.0,226.5h5.2v5.2h-5.2zM399.7,225.9h5.2v5.2h-5.2zM401.7,225.8h5.2v5.2h-5.2zM403.0,225.9h5.2v5.2h-5.2zM404.9,226.1h5.2v5.2h-5.2zM405.9,225.4h5.2v5.2h-5.2zM407.4,225.0h5.2v5.2h-5.2zM408.9,224.9h5.2v5.2h-5.2zM410.5,224.5h5.2v5.2h-5.2zM412.5,224.5h5.2v5.2h-5.2zM414.0,224.3h5.2v5.2h-5.2zM415.4,223.7h5.2v5.2h-5.2zM416.8,223.4h5.2v5.2h-5.2zM418.2,222.7h5.2v5.2h-5.2zM419.6,223.3h5.2v5.2h-5.2zM421.4,222.4h5.2v5.2h-5.2zM422.8,222.4h5.2v5.2h-5.2zM424.4,221.4h5.2v5.2h-5.2zM426.0,221.1h5.2v5.2h-5.2zM427.8,221.2h5.2v5.2h-5.2zM429.0,220.7h5.2v5.2h-5.2zM430.9,219.5h5.2v5.2h-5.2zM432.3,219.9h5.2v5.2h-5.2zM433.7,219.2h5.2v5.2h-5.2zM435.7,218.6h5.2v5.2h-5.2zM437.2,218.6h5.2v5.2h-5.2zM438.6,218.3h5.2v5.2h-5.2zM440.2,216.9h5.2v5.2h-5.2zM442.1,216.9h5.2v5.2h-5.2zM443.7,216.8h5.2v5.2h-5.2zM445.4,216.1h5.2v5.2h-5.2zM446.8,215.4h5.2v5.2h-5.2zM448.5,214.5h5.2v5.2h-5.2zM450.1,214.3h5.2v5.2h-5.2zM451.2,214.2h5.2v5.2h-5.2zM452.4,213.3h5.2v5.2h-5.2zM453.9,213.3h5.2v5.2h-5.2zM455.6,212.0h5.2v5.2h-5.2zM457.6,211.7h5.2v5.2h-5.2zM458.9,210.8h5.2v5.2h-5.2zM460.1,210.3h5.2v5.2h-5.2zM461.7,209.3h5.2v5.2h-5.2zM463.1,209.3h5.2v5.2h-5.2zM464.4,208.6h5.2v5.2h-5.2zM465.7,207.3h5.2v5.2h-5.2zM467.4,207.5h5.2v5.2h-5.2zM468.5,206.3h5.2v5.2h-5.2zM470.2,205.9h5.2v5.2h-5.2zM471.4,205.3h5.2v5.2h-5.2zM473.2,205.0h5.2v5.2h-5.2zM474.2,203.9h5.2v5.2h-5.2zM475.8,203.4h5.2v5.2h-5.2zM477.1,203.0h5.2v5.2h-5.2zM478.8,202.4h5.2v5.2h-5.2zM479.9,201.4h5.2v5.2h-5.2zM481.4,201.2h5.2v5.2h-5.2zM482.8,200.3h5.2v5.2h-5.2zM484.4,199.0h5.2v5.2h-5.2zM485.9,198.4h5.2v5.2h-5.2zM487.0,198.0h5.2v5.2h-5.2zM488.5,197.0h5.2v5.2h-5.2zM490.2,196.8h5.2v5.2h-5.2zM491.3,195.7h5.2v5.2h-5.2zM493.0,195.2h5.2v5.2h-5.2zM494.0,194.5h5.2v5.2h-5.2zM495.8,193.9h5.2v5.2h-5.2zM497.7,194.1h5.2v5.2h-5.2zM499.4,193.5h5.2v5.2h-5.2zM500.8,193.2h5.2v5.2h-5.2zM502.8,192.0h5.2v5.2h-5.2zM504.0,192.1h5.2v5.2h-5.2zM505.8,191.7h5.2v5.2h-5.2zM507.6,191.1h5.2v5.2h-5.2zM509.2,190.6h5.2v5.2h-5.2zM511.0,190.4h5.2v5.2h-5.2zM512.5,190.9h5.2v5.2h-5.2zM514.0,190.8h5.2v5.2h-5.2zM516.0,190.0h5.2v5.2h-5.2zM517.2,190.3h5.2v5.2h-5.2zM518.5,189.6h5.2v5.2h-5.2zM520.3,190.2h5.2v5.2h-5.2zM521.5,190.4h5.2v5.2h-5.2zM523.0,191.6h5.2v5.2h-5.2zM525.0,191.8h5.2v5.2h-5.2zM526.3,192.9h5.2v5.2h-5.2zM527.8,192.8h5.2v5.2h-5.2zM529.5,194.6h5.2v5.2h-5.2zM531.4,195.4h5.2v5.2h-5.2zM532.5,196.0h5.2v5.2h-5.2zM534.1,197.8h5.2v5.2h-5.2zM535.2,198.1h5.2v5.2h-5.2zM536.0,199.3h5.2v5.2h-5.2zM537.3,200.2h5.2v5.2h-5.2zM538.2,202.3h5.2v5.2h-5.2zM538.8,203.6h5.2v5.2h-5.2zM539.9,204.4h5.2v5.2h-5.2zM541.1,206.7h5.2v5.2h-5.2zM541.5,207.7h5.2v5.2h-5.2zM542.4,209.2h5.2v5.2h-5.2zM542.7,210.6h5.2v5.2h-5.2z" fill="#000"/>
<rect x="398.20" y="230.00" width="5.0" height="5.0" fill="#000"/>
<rect x="546.00" y="217.30" width="5.0" height="5.0" fill="#000"/>
<rect x="547.20" y="220.10" width="5.0" height="5.0" fill="#000"/>
<rect x="549.80" y="223.60" width="5.0" height="5.0" fill="#000"/>
<rect x="551.50" y="227.10" width="5.0" height="5.0" fill="#000"/>
<rect x="552.40" y="230.50" width="5.0" height="5.0" fill="#000"/>
<rect x="554.10" y="235.80" width="5.0" height="5.0" fill="#000"/>
<rect x="556.80" y="244.50" width="5.0" height="5.0" fill="#000"/>
<rect x="557.60" y="248.00" width="5.0" height="5.0" fill="#000"/>
<rect x="560.20" y="255.00" width="5.0" height="5.0" fill="#000"/>
<rect x="561.10" y="258.40" width="5.0" height="5.0" fill="#000"/>
<rect x="562.90" y="261.10" width="5.0" height="5.0" fill="#000"/>
<rect x="564.60" y="265.40" width="5.0" height="5.0" fill="#000"/>
<rect x="566.40" y="274.10" width="5.0" height="5.0" fill="#000"/>
<rect x="569.10" y="283.20" width="5.0" height="5.0" fill="#000"/>
<rect x="570.90" y="288.40" width="5.0" height="5.0" fill="#000"/>
<rect x="573.10" y="293.60" width="5.0" height="5.0" fill="#000"/>
<rect x="575.40" y="298.10" width="5.0" height="5.0" fill="#000"/>
<rect x="576.10" y="301.80" width="5.0" height="5.0" fill="#000"/>
<rect x="578.10" y="307.10" width="5.0" height="5.0" fill="#000"/>
<rect x="579.10" y="315.30" width="5.0" height="5.0" fill="#000"/>
<rect x="580.60" y="321.20" width="5.0" height="5.0" fill="#000"/>
<rect x="583.60" y="311.50" width="5.0" height="5.0" fill="#000"/>
<rect x="586.60" y="308.50" width="5.0" height="5.0" fill="#000"/>
<rect x="588.10" y="313.80" width="5.0" height="5.0" fill="#000"/>
<rect x="589.60" y="320.50" width="5.0" height="5.0" fill="#000"/>
<line x1="573.20" y1="241.80" x2="581.87" y2="273.89" stroke="#000" stroke-width="1.7" />
<polygon points="584.50,283.60 578.09,272.90 581.74,273.41 584.65,271.13" fill="#000"/>
<line x1="56.50" y1="219.24" x2="296.90" y2="219.24" stroke="#f00" stroke-width="2.0" stroke-dasharray="4.0,3.04"/>
<line x1="357.20" y1="230.50" x2="602.00" y2="230.50" stroke="#f00" stroke-width="2.0" stroke-dasharray="4.0,3.04"/>
<rect x="56.5" y="4.1" width="240.39999999999998" height="175.3" fill="none" stroke="#000" stroke-width="1.4"/>
<rect x="56.5" y="179.4" width="240.39999999999998" height="187.9" fill="none" stroke="#000" stroke-width="1.4"/>
<rect x="357.2" y="1.6" width="244.8" height="178.20000000000002" fill="none" stroke="#000" stroke-width="1.4"/>
<rect x="357.2" y="179.8" width="244.8" height="187.59999999999997" fill="none" stroke="#000" stroke-width="1.4"/>
<line x1="56.50" y1="175.77" x2="58.90" y2="175.77" stroke="#000" stroke-width="1.35" />
<line x1="296.90" y1="175.77" x2="294.50" y2="175.77" stroke="#000" stroke-width="1.35" />
<line x1="56.50" y1="169.89" x2="58.90" y2="169.89" stroke="#000" stroke-width="1.35" />
<line x1="296.90" y1="169.89" x2="294.50" y2="169.89" stroke="#000" stroke-width="1.35" />
<line x1="56.50" y1="164.01" x2="58.90" y2="164.01" stroke="#000" stroke-width="1.35" />
<line x1="296.90" y1="164.01" x2="294.50" y2="164.01" stroke="#000" stroke-width="1.35" />
<line x1="56.50" y1="158.13" x2="58.90" y2="158.13" stroke="#000" stroke-width="1.35" />
<line x1="296.90" y1="158.13" x2="294.50" y2="158.13" stroke="#000" stroke-width="1.35" />
<line x1="56.50" y1="152.25" x2="58.90" y2="152.25" stroke="#000" stroke-width="1.35" />
<line x1="296.90" y1="152.25" x2="294.50" y2="152.25" stroke="#000" stroke-width="1.35" />
<line x1="56.50" y1="146.37" x2="60.10" y2="146.37" stroke="#000" stroke-width="1.35" />
<line x1="296.90" y1="146.37" x2="293.30" y2="146.37" stroke="#000" stroke-width="1.35" />
<line x1="56.50" y1="142.19" x2="58.90" y2="142.19" stroke="#000" stroke-width="1.35" />
<line x1="296.90" y1="142.19" x2="294.50" y2="142.19" stroke="#000" stroke-width="1.35" />
<line x1="56.50" y1="138.02" x2="58.90" y2="138.02" stroke="#000" stroke-width="1.35" />
<line x1="296.90" y1="138.02" x2="294.50" y2="138.02" stroke="#000" stroke-width="1.35" />
<line x1="56.50" y1="133.85" x2="58.90" y2="133.85" stroke="#000" stroke-width="1.35" />
<line x1="296.90" y1="133.85" x2="294.50" y2="133.85" stroke="#000" stroke-width="1.35" />
<line x1="56.50" y1="129.68" x2="58.90" y2="129.68" stroke="#000" stroke-width="1.35" />
<line x1="296.90" y1="129.68" x2="294.50" y2="129.68" stroke="#000" stroke-width="1.35" />
<line x1="56.50" y1="125.50" x2="58.90" y2="125.50" stroke="#000" stroke-width="1.35" />
<line x1="296.90" y1="125.50" x2="294.50" y2="125.50" stroke="#000" stroke-width="1.35" />
<line x1="56.50" y1="121.33" x2="58.90" y2="121.33" stroke="#000" stroke-width="1.35" />
<line x1="296.90" y1="121.33" x2="294.50" y2="121.33" stroke="#000" stroke-width="1.35" />
<line x1="56.50" y1="117.16" x2="58.90" y2="117.16" stroke="#000" stroke-width="1.35" />
<line x1="296.90" y1="117.16" x2="294.50" y2="117.16" stroke="#000" stroke-width="1.35" />
<line x1="56.50" y1="112.98" x2="58.90" y2="112.98" stroke="#000" stroke-width="1.35" />
<line x1="296.90" y1="112.98" x2="294.50" y2="112.98" stroke="#000" stroke-width="1.35" />
<line x1="56.50" y1="108.81" x2="58.90" y2="108.81" stroke="#000" stroke-width="1.35" />
<line x1="296.90" y1="108.81" x2="294.50" y2="108.81" stroke="#000" stroke-width="1.35" />
<line x1="56.50" y1="104.64" x2="60.10" y2="104.64" stroke="#000" stroke-width="1.35" />
<line x1="296.90" y1="104.64" x2="293.30" y2="104.64" stroke="#000" stroke-width="1.35" />
<line x1="56.50" y1="101.40" x2="58.90" y2="101.40" stroke="#000" stroke-width="1.35" />
<line x1="296.90" y1="101.40" x2="294.50" y2="101.40" stroke="#000" stroke-width="1.35" />
<line x1="56.50" y1="98.16" x2="58.90" y2="98.16" stroke="#000" stroke-width="1.35" />
<line x1="296.90" y1="98.16" x2="294.50" y2="98.16" stroke="#000" stroke-width="1.35" />
<line x1="56.50" y1="94.93" x2="58.90" y2="94.93" stroke="#000" stroke-width="1.35" />
<line x1="296.90" y1="94.93" x2="294.50" y2="94.93" stroke="#000" stroke-width="1.35" />
<line x1="56.50" y1="91.69" x2="58.90" y2="91.69" stroke="#000" stroke-width="1.35" />
<line x1="296.90" y1="91.69" x2="294.50" y2="91.69" stroke="#000" stroke-width="1.35" />
<line x1="56.50" y1="88.45" x2="58.90" y2="88.45" stroke="#000" stroke-width="1.35" />
<line x1="296.90" y1="88.45" x2="294.50" y2="88.45" stroke="#000" stroke-width="1.35" />
<line x1="56.50" y1="85.22" x2="58.90" y2="85.22" stroke="#000" stroke-width="1.35" />
<line x1="296.90" y1="85.22" x2="294.50" y2="85.22" stroke="#000" stroke-width="1.35" />
<line x1="56.50" y1="81.98" x2="58.90" y2="81.98" stroke="#000" stroke-width="1.35" />
<line x1="296.90" y1="81.98" x2="294.50" y2="81.98" stroke="#000" stroke-width="1.35" />
<line x1="56.50" y1="78.74" x2="58.90" y2="78.74" stroke="#000" stroke-width="1.35" />
<line x1="296.90" y1="78.74" x2="294.50" y2="78.74" stroke="#000" stroke-width="1.35" />
<line x1="56.50" y1="75.51" x2="58.90" y2="75.51" stroke="#000" stroke-width="1.35" />
<line x1="296.90" y1="75.51" x2="294.50" y2="75.51" stroke="#000" stroke-width="1.35" />
<line x1="56.50" y1="72.27" x2="60.10" y2="72.27" stroke="#000" stroke-width="1.35" />
<line x1="296.90" y1="72.27" x2="293.30" y2="72.27" stroke="#000" stroke-width="1.35" />
<line x1="56.50" y1="69.63" x2="58.90" y2="69.63" stroke="#000" stroke-width="1.35" />
<line x1="296.90" y1="69.63" x2="294.50" y2="69.63" stroke="#000" stroke-width="1.35" />
<line x1="56.50" y1="66.98" x2="58.90" y2="66.98" stroke="#000" stroke-width="1.35" />
<line x1="296.90" y1="66.98" x2="294.50" y2="66.98" stroke="#000" stroke-width="1.35" />
<line x1="56.50" y1="64.34" x2="58.90" y2="64.34" stroke="#000" stroke-width="1.35" />
<line x1="296.90" y1="64.34" x2="294.50" y2="64.34" stroke="#000" stroke-width="1.35" />
<line x1="56.50" y1="61.69" x2="58.90" y2="61.69" stroke="#000" stroke-width="1.35" />
<line x1="296.90" y1="61.69" x2="294.50" y2="61.69" stroke="#000" stroke-width="1.35" />
<line x1="56.50" y1="59.05" x2="58.90" y2="59.05" stroke="#000" stroke-width="1.35" />
<line x1="296.90" y1="59.05" x2="294.50" y2="59.05" stroke="#000" stroke-width="1.35" />
<line x1="56.50" y1="56.40" x2="58.90" y2="56.40" stroke="#000" stroke-width="1.35" />
<line x1="296.90" y1="56.40" x2="294.50" y2="56.40" stroke="#000" stroke-width="1.35" />
<line x1="56.50" y1="53.76" x2="58.90" y2="53.76" stroke="#000" stroke-width="1.35" />
<line x1="296.90" y1="53.76" x2="294.50" y2="53.76" stroke="#000" stroke-width="1.35" />
<line x1="56.50" y1="51.11" x2="58.90" y2="51.11" stroke="#000" stroke-width="1.35" />
<line x1="296.90" y1="51.11" x2="294.50" y2="51.11" stroke="#000" stroke-width="1.35" />
<line x1="56.50" y1="48.47" x2="58.90" y2="48.47" stroke="#000" stroke-width="1.35" />
<line x1="296.90" y1="48.47" x2="294.50" y2="48.47" stroke="#000" stroke-width="1.35" />
<line x1="56.50" y1="45.83" x2="60.10" y2="45.83" stroke="#000" stroke-width="1.35" />
<line x1="296.90" y1="45.83" x2="293.30" y2="45.83" stroke="#000" stroke-width="1.35" />
<line x1="56.50" y1="43.59" x2="58.90" y2="43.59" stroke="#000" stroke-width="1.35" />
<line x1="296.90" y1="43.59" x2="294.50" y2="43.59" stroke="#000" stroke-width="1.35" />
<line x1="56.50" y1="41.35" x2="58.90" y2="41.35" stroke="#000" stroke-width="1.35" />
<line x1="296.90" y1="41.35" x2="294.50" y2="41.35" stroke="#000" stroke-width="1.35" />
<line x1="56.50" y1="39.12" x2="58.90" y2="39.12" stroke="#000" stroke-width="1.35" />
<line x1="296.90" y1="39.12" x2="294.50" y2="39.12" stroke="#000" stroke-width="1.35" />
<line x1="56.50" y1="36.88" x2="58.90" y2="36.88" stroke="#000" stroke-width="1.35" />
<line x1="296.90" y1="36.88" x2="294.50" y2="36.88" stroke="#000" stroke-width="1.35" />
<line x1="56.50" y1="34.65" x2="58.90" y2="34.65" stroke="#000" stroke-width="1.35" />
<line x1="296.90" y1="34.65" x2="294.50" y2="34.65" stroke="#000" stroke-width="1.35" />
<line x1="56.50" y1="32.41" x2="58.90" y2="32.41" stroke="#000" stroke-width="1.35" />
<line x1="296.90" y1="32.41" x2="294.50" y2="32.41" stroke="#000" stroke-width="1.35" />
<line x1="56.50" y1="30.17" x2="58.90" y2="30.17" stroke="#000" stroke-width="1.35" />
<line x1="296.90" y1="30.17" x2="294.50" y2="30.17" stroke="#000" stroke-width="1.35" />
<line x1="56.50" y1="27.94" x2="58.90" y2="27.94" stroke="#000" stroke-width="1.35" />
<line x1="296.90" y1="27.94" x2="294.50" y2="27.94" stroke="#000" stroke-width="1.35" />
<line x1="56.50" y1="25.70" x2="58.90" y2="25.70" stroke="#000" stroke-width="1.35" />
<line x1="296.90" y1="25.70" x2="294.50" y2="25.70" stroke="#000" stroke-width="1.35" />
<line x1="56.50" y1="23.47" x2="60.10" y2="23.47" stroke="#000" stroke-width="1.35" />
<line x1="296.90" y1="23.47" x2="293.30" y2="23.47" stroke="#000" stroke-width="1.35" />
<line x1="56.50" y1="21.53" x2="58.90" y2="21.53" stroke="#000" stroke-width="1.35" />
<line x1="296.90" y1="21.53" x2="294.50" y2="21.53" stroke="#000" stroke-width="1.35" />
<line x1="56.50" y1="19.59" x2="58.90" y2="19.59" stroke="#000" stroke-width="1.35" />
<line x1="296.90" y1="19.59" x2="294.50" y2="19.59" stroke="#000" stroke-width="1.35" />
<line x1="56.50" y1="17.66" x2="58.90" y2="17.66" stroke="#000" stroke-width="1.35" />
<line x1="296.90" y1="17.66" x2="294.50" y2="17.66" stroke="#000" stroke-width="1.35" />
<line x1="56.50" y1="15.72" x2="58.90" y2="15.72" stroke="#000" stroke-width="1.35" />
<line x1="296.90" y1="15.72" x2="294.50" y2="15.72" stroke="#000" stroke-width="1.35" />
<line x1="56.50" y1="13.78" x2="58.90" y2="13.78" stroke="#000" stroke-width="1.35" />
<line x1="296.90" y1="13.78" x2="294.50" y2="13.78" stroke="#000" stroke-width="1.35" />
<line x1="56.50" y1="11.84" x2="58.90" y2="11.84" stroke="#000" stroke-width="1.35" />
<line x1="296.90" y1="11.84" x2="294.50" y2="11.84" stroke="#000" stroke-width="1.35" />
<line x1="56.50" y1="9.91" x2="58.90" y2="9.91" stroke="#000" stroke-width="1.35" />
<line x1="296.90" y1="9.91" x2="294.50" y2="9.91" stroke="#000" stroke-width="1.35" />
<line x1="56.50" y1="7.97" x2="58.90" y2="7.97" stroke="#000" stroke-width="1.35" />
<line x1="296.90" y1="7.97" x2="294.50" y2="7.97" stroke="#000" stroke-width="1.35" />
<line x1="56.50" y1="6.03" x2="58.90" y2="6.03" stroke="#000" stroke-width="1.35" />
<line x1="296.90" y1="6.03" x2="294.50" y2="6.03" stroke="#000" stroke-width="1.35" />
<line x1="56.50" y1="4.10" x2="60.10" y2="4.10" stroke="#000" stroke-width="1.35" />
<line x1="296.90" y1="4.10" x2="293.30" y2="4.10" stroke="#000" stroke-width="1.35" />
<line x1="78.22" y1="4.10" x2="78.22" y2="6.40" stroke="#000" stroke-width="1.2" />
<line x1="78.22" y1="177.10" x2="78.22" y2="181.70" stroke="#000" stroke-width="1.2" />
<line x1="100.10" y1="4.10" x2="100.10" y2="7.50" stroke="#000" stroke-width="1.2" />
<line x1="100.10" y1="176.00" x2="100.10" y2="182.80" stroke="#000" stroke-width="1.2" />
<line x1="121.98" y1="4.10" x2="121.98" y2="6.40" stroke="#000" stroke-width="1.2" />
<line x1="121.98" y1="177.10" x2="121.98" y2="181.70" stroke="#000" stroke-width="1.2" />
<line x1="143.85" y1="4.10" x2="143.85" y2="7.50" stroke="#000" stroke-width="1.2" />
<line x1="143.85" y1="176.00" x2="143.85" y2="182.80" stroke="#000" stroke-width="1.2" />
<line x1="165.72" y1="4.10" x2="165.72" y2="6.40" stroke="#000" stroke-width="1.2" />
<line x1="165.72" y1="177.10" x2="165.72" y2="181.70" stroke="#000" stroke-width="1.2" />
<line x1="187.60" y1="4.10" x2="187.60" y2="7.50" stroke="#000" stroke-width="1.2" />
<line x1="187.60" y1="176.00" x2="187.60" y2="182.80" stroke="#000" stroke-width="1.2" />
<line x1="209.48" y1="4.10" x2="209.48" y2="6.40" stroke="#000" stroke-width="1.2" />
<line x1="209.48" y1="177.10" x2="209.48" y2="181.70" stroke="#000" stroke-width="1.2" />
<line x1="231.35" y1="4.10" x2="231.35" y2="7.50" stroke="#000" stroke-width="1.2" />
<line x1="231.35" y1="176.00" x2="231.35" y2="182.80" stroke="#000" stroke-width="1.2" />
<line x1="253.22" y1="4.10" x2="253.22" y2="6.40" stroke="#000" stroke-width="1.2" />
<line x1="253.22" y1="177.10" x2="253.22" y2="181.70" stroke="#000" stroke-width="1.2" />
<line x1="275.10" y1="4.10" x2="275.10" y2="7.50" stroke="#000" stroke-width="1.2" />
<line x1="275.10" y1="176.00" x2="275.10" y2="182.80" stroke="#000" stroke-width="1.2" />
<text x="53.60" y="148.97" font-size="9.8" font-weight="bold" text-anchor="end" fill="#000" >300</text>
<text x="53.60" y="107.24" font-size="9.8" font-weight="bold" text-anchor="end" fill="#000" >400</text>
<text x="53.60" y="74.87" font-size="9.8" font-weight="bold" text-anchor="end" fill="#000" >500</text>
<text x="53.60" y="48.43" font-size="9.8" font-weight="bold" text-anchor="end" fill="#000" >600</text>
<text x="53.60" y="26.07" font-size="9.8" font-weight="bold" text-anchor="end" fill="#000" >700</text>
<text x="53.60" y="6.70" font-size="9.8" font-weight="bold" text-anchor="end" fill="#000" >800</text>
<line x1="56.50" y1="353.94" x2="60.10" y2="353.94" stroke="#000" stroke-width="1.35" />
<line x1="296.90" y1="353.94" x2="293.30" y2="353.94" stroke="#000" stroke-width="1.35" />
<line x1="56.50" y1="340.47" x2="58.90" y2="340.47" stroke="#000" stroke-width="1.35" />
<line x1="296.90" y1="340.47" x2="294.50" y2="340.47" stroke="#000" stroke-width="1.35" />
<line x1="56.50" y1="327.00" x2="60.10" y2="327.00" stroke="#000" stroke-width="1.35" />
<line x1="296.90" y1="327.00" x2="293.30" y2="327.00" stroke="#000" stroke-width="1.35" />
<line x1="56.50" y1="313.53" x2="58.90" y2="313.53" stroke="#000" stroke-width="1.35" />
<line x1="296.90" y1="313.53" x2="294.50" y2="313.53" stroke="#000" stroke-width="1.35" />
<line x1="56.50" y1="300.06" x2="60.10" y2="300.06" stroke="#000" stroke-width="1.35" />
<line x1="296.90" y1="300.06" x2="293.30" y2="300.06" stroke="#000" stroke-width="1.35" />
<line x1="56.50" y1="286.59" x2="58.90" y2="286.59" stroke="#000" stroke-width="1.35" />
<line x1="296.90" y1="286.59" x2="294.50" y2="286.59" stroke="#000" stroke-width="1.35" />
<line x1="56.50" y1="273.12" x2="60.10" y2="273.12" stroke="#000" stroke-width="1.35" />
<line x1="296.90" y1="273.12" x2="293.30" y2="273.12" stroke="#000" stroke-width="1.35" />
<line x1="56.50" y1="259.65" x2="58.90" y2="259.65" stroke="#000" stroke-width="1.35" />
<line x1="296.90" y1="259.65" x2="294.50" y2="259.65" stroke="#000" stroke-width="1.35" />
<line x1="56.50" y1="246.18" x2="60.10" y2="246.18" stroke="#000" stroke-width="1.35" />
<line x1="296.90" y1="246.18" x2="293.30" y2="246.18" stroke="#000" stroke-width="1.35" />
<line x1="56.50" y1="232.71" x2="58.90" y2="232.71" stroke="#000" stroke-width="1.35" />
<line x1="296.90" y1="232.71" x2="294.50" y2="232.71" stroke="#000" stroke-width="1.35" />
<line x1="56.50" y1="219.24" x2="60.10" y2="219.24" stroke="#000" stroke-width="1.35" />
<line x1="296.90" y1="219.24" x2="293.30" y2="219.24" stroke="#000" stroke-width="1.35" />
<line x1="56.50" y1="205.77" x2="58.90" y2="205.77" stroke="#000" stroke-width="1.35" />
<line x1="296.90" y1="205.77" x2="294.50" y2="205.77" stroke="#000" stroke-width="1.35" />
<line x1="56.50" y1="192.30" x2="60.10" y2="192.30" stroke="#000" stroke-width="1.35" />
<line x1="296.90" y1="192.30" x2="293.30" y2="192.30" stroke="#000" stroke-width="1.35" />
<line x1="78.22" y1="367.30" x2="78.22" y2="365.00" stroke="#000" stroke-width="1.2" />
<line x1="100.10" y1="367.30" x2="100.10" y2="363.90" stroke="#000" stroke-width="1.2" />
<line x1="121.98" y1="367.30" x2="121.98" y2="365.00" stroke="#000" stroke-width="1.2" />
<line x1="143.85" y1="367.30" x2="143.85" y2="363.90" stroke="#000" stroke-width="1.2" />
<line x1="165.72" y1="367.30" x2="165.72" y2="365.00" stroke="#000" stroke-width="1.2" />
<line x1="187.60" y1="367.30" x2="187.60" y2="363.90" stroke="#000" stroke-width="1.2" />
<line x1="209.48" y1="367.30" x2="209.48" y2="365.00" stroke="#000" stroke-width="1.2" />
<line x1="231.35" y1="367.30" x2="231.35" y2="363.90" stroke="#000" stroke-width="1.2" />
<line x1="253.22" y1="367.30" x2="253.22" y2="365.00" stroke="#000" stroke-width="1.2" />
<line x1="275.10" y1="367.30" x2="275.10" y2="363.90" stroke="#000" stroke-width="1.2" />
<text x="53.40" y="194.90" font-size="9.8" font-weight="bold" text-anchor="end" fill="#000" >10</text>
<text x="53.40" y="221.84" font-size="9.8" font-weight="bold" text-anchor="end" fill="#000" >0</text>
<text x="53.40" y="248.78" font-size="9.8" font-weight="bold" text-anchor="end" fill="#000" >-10</text>
<text x="53.40" y="275.72" font-size="9.8" font-weight="bold" text-anchor="end" fill="#000" >-20</text>
<text x="53.40" y="302.66" font-size="9.8" font-weight="bold" text-anchor="end" fill="#000" >-30</text>
<text x="53.40" y="329.60" font-size="9.8" font-weight="bold" text-anchor="end" fill="#000" >-40</text>
<text x="53.40" y="356.54" font-size="9.8" font-weight="bold" text-anchor="end" fill="#000" >-50</text>
<text x="56.35" y="378.70" font-size="9.8" font-weight="bold" text-anchor="middle" fill="#000" >0.0</text>
<text x="100.10" y="378.70" font-size="9.8" font-weight="bold" text-anchor="middle" fill="#000" >0.1</text>
<text x="143.85" y="378.70" font-size="9.8" font-weight="bold" text-anchor="middle" fill="#000" >0.2</text>
<text x="187.60" y="378.70" font-size="9.8" font-weight="bold" text-anchor="middle" fill="#000" >0.3</text>
<text x="231.35" y="378.70" font-size="9.8" font-weight="bold" text-anchor="middle" fill="#000" >0.4</text>
<text x="275.10" y="378.70" font-size="9.8" font-weight="bold" text-anchor="middle" fill="#000" >0.5</text>
<line x1="357.20" y1="177.87" x2="359.60" y2="177.87" stroke="#000" stroke-width="1.35" />
<line x1="602.00" y1="177.87" x2="599.60" y2="177.87" stroke="#000" stroke-width="1.35" />
<line x1="357.20" y1="174.10" x2="359.60" y2="174.10" stroke="#000" stroke-width="1.35" />
<line x1="602.00" y1="174.10" x2="599.60" y2="174.10" stroke="#000" stroke-width="1.35" />
<line x1="357.20" y1="170.34" x2="359.60" y2="170.34" stroke="#000" stroke-width="1.35" />
<line x1="602.00" y1="170.34" x2="599.60" y2="170.34" stroke="#000" stroke-width="1.35" />
<line x1="357.20" y1="166.57" x2="359.60" y2="166.57" stroke="#000" stroke-width="1.35" />
<line x1="602.00" y1="166.57" x2="599.60" y2="166.57" stroke="#000" stroke-width="1.35" />
<line x1="357.20" y1="162.81" x2="360.80" y2="162.81" stroke="#000" stroke-width="1.35" />
<line x1="602.00" y1="162.81" x2="598.40" y2="162.81" stroke="#000" stroke-width="1.35" />
<line x1="357.20" y1="159.54" x2="359.60" y2="159.54" stroke="#000" stroke-width="1.35" />
<line x1="602.00" y1="159.54" x2="599.60" y2="159.54" stroke="#000" stroke-width="1.35" />
<line x1="357.20" y1="156.28" x2="359.60" y2="156.28" stroke="#000" stroke-width="1.35" />
<line x1="602.00" y1="156.28" x2="599.60" y2="156.28" stroke="#000" stroke-width="1.35" />
<line x1="357.20" y1="153.02" x2="359.60" y2="153.02" stroke="#000" stroke-width="1.35" />
<line x1="602.00" y1="153.02" x2="599.60" y2="153.02" stroke="#000" stroke-width="1.35" />
<line x1="357.20" y1="149.76" x2="359.60" y2="149.76" stroke="#000" stroke-width="1.35" />
<line x1="602.00" y1="149.76" x2="599.60" y2="149.76" stroke="#000" stroke-width="1.35" />
<line x1="357.20" y1="146.50" x2="359.60" y2="146.50" stroke="#000" stroke-width="1.35" />
<line x1="602.00" y1="146.50" x2="599.60" y2="146.50" stroke="#000" stroke-width="1.35" />
<line x1="357.20" y1="143.23" x2="359.60" y2="143.23" stroke="#000" stroke-width="1.35" />
<line x1="602.00" y1="143.23" x2="599.60" y2="143.23" stroke="#000" stroke-width="1.35" />
<line x1="357.20" y1="139.97" x2="359.60" y2="139.97" stroke="#000" stroke-width="1.35" />
<line x1="602.00" y1="139.97" x2="599.60" y2="139.97" stroke="#000" stroke-width="1.35" />
<line x1="357.20" y1="136.71" x2="359.60" y2="136.71" stroke="#000" stroke-width="1.35" />
<line x1="602.00" y1="136.71" x2="599.60" y2="136.71" stroke="#000" stroke-width="1.35" />
<line x1="357.20" y1="133.45" x2="359.60" y2="133.45" stroke="#000" stroke-width="1.35" />
<line x1="602.00" y1="133.45" x2="599.60" y2="133.45" stroke="#000" stroke-width="1.35" />
<line x1="357.20" y1="130.19" x2="360.80" y2="130.19" stroke="#000" stroke-width="1.35" />
<line x1="602.00" y1="130.19" x2="598.40" y2="130.19" stroke="#000" stroke-width="1.35" />
<line x1="357.20" y1="127.31" x2="359.60" y2="127.31" stroke="#000" stroke-width="1.35" />
<line x1="602.00" y1="127.31" x2="599.60" y2="127.31" stroke="#000" stroke-width="1.35" />
<line x1="357.20" y1="124.43" x2="359.60" y2="124.43" stroke="#000" stroke-width="1.35" />
<line x1="602.00" y1="124.43" x2="599.60" y2="124.43" stroke="#000" stroke-width="1.35" />
<line x1="357.20" y1="121.55" x2="359.60" y2="121.55" stroke="#000" stroke-width="1.35" />
<line x1="602.00" y1="121.55" x2="599.60" y2="121.55" stroke="#000" stroke-width="1.35" />
<line x1="357.20" y1="118.68" x2="359.60" y2="118.68" stroke="#000" stroke-width="1.35" />
<line x1="602.00" y1="118.68" x2="599.60" y2="118.68" stroke="#000" stroke-width="1.35" />
<line x1="357.20" y1="115.80" x2="359.60" y2="115.80" stroke="#000" stroke-width="1.35" />
<line x1="602.00" y1="115.80" x2="599.60" y2="115.80" stroke="#000" stroke-width="1.35" />
<line x1="357.20" y1="112.92" x2="359.60" y2="112.92" stroke="#000" stroke-width="1.35" />
<line x1="602.00" y1="112.92" x2="599.60" y2="112.92" stroke="#000" stroke-width="1.35" />
<line x1="357.20" y1="110.04" x2="359.60" y2="110.04" stroke="#000" stroke-width="1.35" />
<line x1="602.00" y1="110.04" x2="599.60" y2="110.04" stroke="#000" stroke-width="1.35" />
<line x1="357.20" y1="107.17" x2="359.60" y2="107.17" stroke="#000" stroke-width="1.35" />
<line x1="602.00" y1="107.17" x2="599.60" y2="107.17" stroke="#000" stroke-width="1.35" />
<line x1="357.20" y1="104.29" x2="359.60" y2="104.29" stroke="#000" stroke-width="1.35" />
<line x1="602.00" y1="104.29" x2="599.60" y2="104.29" stroke="#000" stroke-width="1.35" />
<line x1="357.20" y1="101.41" x2="360.80" y2="101.41" stroke="#000" stroke-width="1.35" />
<line x1="602.00" y1="101.41" x2="598.40" y2="101.41" stroke="#000" stroke-width="1.35" />
<line x1="357.20" y1="98.84" x2="359.60" y2="98.84" stroke="#000" stroke-width="1.35" />
<line x1="602.00" y1="98.84" x2="599.60" y2="98.84" stroke="#000" stroke-width="1.35" />
<line x1="357.20" y1="96.26" x2="359.60" y2="96.26" stroke="#000" stroke-width="1.35" />
<line x1="602.00" y1="96.26" x2="599.60" y2="96.26" stroke="#000" stroke-width="1.35" />
<line x1="357.20" y1="93.69" x2="359.60" y2="93.69" stroke="#000" stroke-width="1.35" />
<line x1="602.00" y1="93.69" x2="599.60" y2="93.69" stroke="#000" stroke-width="1.35" />
<line x1="357.20" y1="91.11" x2="359.60" y2="91.11" stroke="#000" stroke-width="1.35" />
<line x1="602.00" y1="91.11" x2="599.60" y2="91.11" stroke="#000" stroke-width="1.35" />
<line x1="357.20" y1="88.54" x2="359.60" y2="88.54" stroke="#000" stroke-width="1.35" />
<line x1="602.00" y1="88.54" x2="599.60" y2="88.54" stroke="#000" stroke-width="1.35" />
<line x1="357.20" y1="85.97" x2="359.60" y2="85.97" stroke="#000" stroke-width="1.35" />
<line x1="602.00" y1="85.97" x2="599.60" y2="85.97" stroke="#000" stroke-width="1.35" />
<line x1="357.20" y1="83.39" x2="359.60" y2="83.39" stroke="#000" stroke-width="1.35" />
<line x1="602.00" y1="83.39" x2="599.60" y2="83.39" stroke="#000" stroke-width="1.35" />
<line x1="357.20" y1="80.82" x2="359.60" y2="80.82" stroke="#000" stroke-width="1.35" />
<line x1="602.00" y1="80.82" x2="599.60" y2="80.82" stroke="#000" stroke-width="1.35" />
<line x1="357.20" y1="78.25" x2="359.60" y2="78.25" stroke="#000" stroke-width="1.35" />
<line x1="602.00" y1="78.25" x2="599.60" y2="78.25" stroke="#000" stroke-width="1.35" />
<line x1="357.20" y1="75.67" x2="360.80" y2="75.67" stroke="#000" stroke-width="1.35" />
<line x1="602.00" y1="75.67" x2="598.40" y2="75.67" stroke="#000" stroke-width="1.35" />
<line x1="357.20" y1="73.34" x2="359.60" y2="73.34" stroke="#000" stroke-width="1.35" />
<line x1="602.00" y1="73.34" x2="599.60" y2="73.34" stroke="#000" stroke-width="1.35" />
<line x1="357.20" y1="71.01" x2="359.60" y2="71.01" stroke="#000" stroke-width="1.35" />
<line x1="602.00" y1="71.01" x2="599.60" y2="71.01" stroke="#000" stroke-width="1.35" />
<line x1="357.20" y1="68.69" x2="359.60" y2="68.69" stroke="#000" stroke-width="1.35" />
<line x1="602.00" y1="68.69" x2="599.60" y2="68.69" stroke="#000" stroke-width="1.35" />
<line x1="357.20" y1="66.36" x2="359.60" y2="66.36" stroke="#000" stroke-width="1.35" />
<line x1="602.00" y1="66.36" x2="599.60" y2="66.36" stroke="#000" stroke-width="1.35" />
<line x1="357.20" y1="64.03" x2="359.60" y2="64.03" stroke="#000" stroke-width="1.35" />
<line x1="602.00" y1="64.03" x2="599.60" y2="64.03" stroke="#000" stroke-width="1.35" />
<line x1="357.20" y1="61.70" x2="359.60" y2="61.70" stroke="#000" stroke-width="1.35" />
<line x1="602.00" y1="61.70" x2="599.60" y2="61.70" stroke="#000" stroke-width="1.35" />
<line x1="357.20" y1="59.37" x2="359.60" y2="59.37" stroke="#000" stroke-width="1.35" />
<line x1="602.00" y1="59.37" x2="599.60" y2="59.37" stroke="#000" stroke-width="1.35" />
<line x1="357.20" y1="57.04" x2="359.60" y2="57.04" stroke="#000" stroke-width="1.35" />
<line x1="602.00" y1="57.04" x2="599.60" y2="57.04" stroke="#000" stroke-width="1.35" />
<line x1="357.20" y1="54.72" x2="359.60" y2="54.72" stroke="#000" stroke-width="1.35" />
<line x1="602.00" y1="54.72" x2="599.60" y2="54.72" stroke="#000" stroke-width="1.35" />
<line x1="357.20" y1="52.39" x2="360.80" y2="52.39" stroke="#000" stroke-width="1.35" />
<line x1="602.00" y1="52.39" x2="598.40" y2="52.39" stroke="#000" stroke-width="1.35" />
<line x1="357.20" y1="50.26" x2="359.60" y2="50.26" stroke="#000" stroke-width="1.35" />
<line x1="602.00" y1="50.26" x2="599.60" y2="50.26" stroke="#000" stroke-width="1.35" />
<line x1="357.20" y1="48.14" x2="359.60" y2="48.14" stroke="#000" stroke-width="1.35" />
<line x1="602.00" y1="48.14" x2="599.60" y2="48.14" stroke="#000" stroke-width="1.35" />
<line x1="357.20" y1="46.01" x2="359.60" y2="46.01" stroke="#000" stroke-width="1.35" />
<line x1="602.00" y1="46.01" x2="599.60" y2="46.01" stroke="#000" stroke-width="1.35" />
<line x1="357.20" y1="43.88" x2="359.60" y2="43.88" stroke="#000" stroke-width="1.35" />
<line x1="602.00" y1="43.88" x2="599.60" y2="43.88" stroke="#000" stroke-width="1.35" />
<line x1="357.20" y1="41.76" x2="359.60" y2="41.76" stroke="#000" stroke-width="1.35" />
<line x1="602.00" y1="41.76" x2="599.60" y2="41.76" stroke="#000" stroke-width="1.35" />
<line x1="357.20" y1="39.63" x2="359.60" y2="39.63" stroke="#000" stroke-width="1.35" />
<line x1="602.00" y1="39.63" x2="599.60" y2="39.63" stroke="#000" stroke-width="1.35" />
<line x1="357.20" y1="37.51" x2="359.60" y2="37.51" stroke="#000" stroke-width="1.35" />
<line x1="602.00" y1="37.51" x2="599.60" y2="37.51" stroke="#000" stroke-width="1.35" />
<line x1="357.20" y1="35.38" x2="359.60" y2="35.38" stroke="#000" stroke-width="1.35" />
<line x1="602.00" y1="35.38" x2="599.60" y2="35.38" stroke="#000" stroke-width="1.35" />
<line x1="357.20" y1="33.26" x2="359.60" y2="33.26" stroke="#000" stroke-width="1.35" />
<line x1="602.00" y1="33.26" x2="599.60" y2="33.26" stroke="#000" stroke-width="1.35" />
<line x1="357.20" y1="31.13" x2="360.80" y2="31.13" stroke="#000" stroke-width="1.35" />
<line x1="602.00" y1="31.13" x2="598.40" y2="31.13" stroke="#000" stroke-width="1.35" />
<line x1="357.20" y1="29.17" x2="359.60" y2="29.17" stroke="#000" stroke-width="1.35" />
<line x1="602.00" y1="29.17" x2="599.60" y2="29.17" stroke="#000" stroke-width="1.35" />
<line x1="357.20" y1="27.22" x2="359.60" y2="27.22" stroke="#000" stroke-width="1.35" />
<line x1="602.00" y1="27.22" x2="599.60" y2="27.22" stroke="#000" stroke-width="1.35" />
<line x1="357.20" y1="25.26" x2="359.60" y2="25.26" stroke="#000" stroke-width="1.35" />
<line x1="602.00" y1="25.26" x2="599.60" y2="25.26" stroke="#000" stroke-width="1.35" />
<line x1="357.20" y1="23.31" x2="359.60" y2="23.31" stroke="#000" stroke-width="1.35" />
<line x1="602.00" y1="23.31" x2="599.60" y2="23.31" stroke="#000" stroke-width="1.35" />
<line x1="357.20" y1="21.35" x2="359.60" y2="21.35" stroke="#000" stroke-width="1.35" />
<line x1="602.00" y1="21.35" x2="599.60" y2="21.35" stroke="#000" stroke-width="1.35" />
<line x1="357.20" y1="19.40" x2="359.60" y2="19.40" stroke="#000" stroke-width="1.35" />
<line x1="602.00" y1="19.40" x2="599.60" y2="19.40" stroke="#000" stroke-width="1.35" />
<line x1="357.20" y1="17.44" x2="359.60" y2="17.44" stroke="#000" stroke-width="1.35" />
<line x1="602.00" y1="17.44" x2="599.60" y2="17.44" stroke="#000" stroke-width="1.35" />
<line x1="357.20" y1="15.49" x2="359.60" y2="15.49" stroke="#000" stroke-width="1.35" />
<line x1="602.00" y1="15.49" x2="599.60" y2="15.49" stroke="#000" stroke-width="1.35" />
<line x1="357.20" y1="13.53" x2="359.60" y2="13.53" stroke="#000" stroke-width="1.35" />
<line x1="602.00" y1="13.53" x2="599.60" y2="13.53" stroke="#000" stroke-width="1.35" />
<line x1="357.20" y1="11.58" x2="360.80" y2="11.58" stroke="#000" stroke-width="1.35" />
<line x1="602.00" y1="11.58" x2="598.40" y2="11.58" stroke="#000" stroke-width="1.35" />
<line x1="357.20" y1="9.77" x2="359.60" y2="9.77" stroke="#000" stroke-width="1.35" />
<line x1="602.00" y1="9.77" x2="599.60" y2="9.77" stroke="#000" stroke-width="1.35" />
<line x1="357.20" y1="7.95" x2="359.60" y2="7.95" stroke="#000" stroke-width="1.35" />
<line x1="602.00" y1="7.95" x2="599.60" y2="7.95" stroke="#000" stroke-width="1.35" />
<line x1="357.20" y1="6.14" x2="359.60" y2="6.14" stroke="#000" stroke-width="1.35" />
<line x1="602.00" y1="6.14" x2="599.60" y2="6.14" stroke="#000" stroke-width="1.35" />
<line x1="357.20" y1="4.33" x2="359.60" y2="4.33" stroke="#000" stroke-width="1.35" />
<line x1="602.00" y1="4.33" x2="599.60" y2="4.33" stroke="#000" stroke-width="1.35" />
<line x1="357.20" y1="2.52" x2="359.60" y2="2.52" stroke="#000" stroke-width="1.35" />
<line x1="602.00" y1="2.52" x2="599.60" y2="2.52" stroke="#000" stroke-width="1.35" />
<line x1="357.35" y1="1.60" x2="357.35" y2="5.60" stroke="#000" stroke-width="1.1" />
<line x1="366.23" y1="1.60" x2="366.23" y2="3.80" stroke="#000" stroke-width="1.1" />
<line x1="371.43" y1="1.60" x2="371.43" y2="3.80" stroke="#000" stroke-width="1.1" />
<line x1="375.11" y1="1.60" x2="375.11" y2="3.80" stroke="#000" stroke-width="1.1" />
<line x1="377.97" y1="1.60" x2="377.97" y2="3.80" stroke="#000" stroke-width="1.1" />
<line x1="380.31" y1="1.60" x2="380.31" y2="3.80" stroke="#000" stroke-width="1.1" />
<line x1="382.28" y1="1.60" x2="382.28" y2="3.80" stroke="#000" stroke-width="1.1" />
<line x1="383.99" y1="1.60" x2="383.99" y2="3.80" stroke="#000" stroke-width="1.1" />
<line x1="385.50" y1="1.60" x2="385.50" y2="3.80" stroke="#000" stroke-width="1.1" />
<line x1="386.85" y1="1.60" x2="386.85" y2="5.60" stroke="#000" stroke-width="1.1" />
<line x1="395.73" y1="1.60" x2="395.73" y2="3.80" stroke="#000" stroke-width="1.1" />
<line x1="400.93" y1="1.60" x2="400.93" y2="3.80" stroke="#000" stroke-width="1.1" />
<line x1="404.61" y1="1.60" x2="404.61" y2="3.80" stroke="#000" stroke-width="1.1" />
<line x1="407.47" y1="1.60" x2="407.47" y2="3.80" stroke="#000" stroke-width="1.1" />
<line x1="409.81" y1="1.60" x2="409.81" y2="3.80" stroke="#000" stroke-width="1.1" />
<line x1="411.78" y1="1.60" x2="411.78" y2="3.80" stroke="#000" stroke-width="1.1" />
<line x1="413.49" y1="1.60" x2="413.49" y2="3.80" stroke="#000" stroke-width="1.1" />
<line x1="415.00" y1="1.60" x2="415.00" y2="3.80" stroke="#000" stroke-width="1.1" />
<line x1="416.35" y1="1.60" x2="416.35" y2="5.60" stroke="#000" stroke-width="1.1" />
<line x1="425.23" y1="1.60" x2="425.23" y2="3.80" stroke="#000" stroke-width="1.1" />
<line x1="430.43" y1="1.60" x2="430.43" y2="3.80" stroke="#000" stroke-width="1.1" />
<line x1="434.11" y1="1.60" x2="434.11" y2="3.80" stroke="#000" stroke-width="1.1" />
<line x1="436.97" y1="1.60" x2="436.97" y2="3.80" stroke="#000" stroke-width="1.1" />
<line x1="439.31" y1="1.60" x2="439.31" y2="3.80" stroke="#000" stroke-width="1.1" />
<line x1="441.28" y1="1.60" x2="441.28" y2="3.80" stroke="#000" stroke-width="1.1" />
<line x1="442.99" y1="1.60" x2="442.99" y2="3.80" stroke="#000" stroke-width="1.1" />
<line x1="444.50" y1="1.60" x2="444.50" y2="3.80" stroke="#000" stroke-width="1.1" />
<line x1="445.85" y1="1.60" x2="445.85" y2="5.60" stroke="#000" stroke-width="1.1" />
<line x1="454.73" y1="1.60" x2="454.73" y2="3.80" stroke="#000" stroke-width="1.1" />
<line x1="459.93" y1="1.60" x2="459.93" y2="3.80" stroke="#000" stroke-width="1.1" />
<line x1="463.61" y1="1.60" x2="463.61" y2="3.80" stroke="#000" stroke-width="1.1" />
<line x1="466.47" y1="1.60" x2="466.47" y2="3.80" stroke="#000" stroke-width="1.1" />
<line x1="468.81" y1="1.60" x2="468.81" y2="3.80" stroke="#000" stroke-width="1.1" />
<line x1="470.78" y1="1.60" x2="470.78" y2="3.80" stroke="#000" stroke-width="1.1" />
<line x1="472.49" y1="1.60" x2="472.49" y2="3.80" stroke="#000" stroke-width="1.1" />
<line x1="474.00" y1="1.60" x2="474.00" y2="3.80" stroke="#000" stroke-width="1.1" />
<line x1="475.35" y1="1.60" x2="475.35" y2="5.60" stroke="#000" stroke-width="1.1" />
<line x1="484.23" y1="1.60" x2="484.23" y2="3.80" stroke="#000" stroke-width="1.1" />
<line x1="489.43" y1="1.60" x2="489.43" y2="3.80" stroke="#000" stroke-width="1.1" />
<line x1="493.11" y1="1.60" x2="493.11" y2="3.80" stroke="#000" stroke-width="1.1" />
<line x1="495.97" y1="1.60" x2="495.97" y2="3.80" stroke="#000" stroke-width="1.1" />
<line x1="498.31" y1="1.60" x2="498.31" y2="3.80" stroke="#000" stroke-width="1.1" />
<line x1="500.28" y1="1.60" x2="500.28" y2="3.80" stroke="#000" stroke-width="1.1" />
<line x1="501.99" y1="1.60" x2="501.99" y2="3.80" stroke="#000" stroke-width="1.1" />
<line x1="503.50" y1="1.60" x2="503.50" y2="3.80" stroke="#000" stroke-width="1.1" />
<line x1="504.85" y1="1.60" x2="504.85" y2="5.60" stroke="#000" stroke-width="1.1" />
<line x1="513.73" y1="1.60" x2="513.73" y2="3.80" stroke="#000" stroke-width="1.1" />
<line x1="518.93" y1="1.60" x2="518.93" y2="3.80" stroke="#000" stroke-width="1.1" />
<line x1="522.61" y1="1.60" x2="522.61" y2="3.80" stroke="#000" stroke-width="1.1" />
<line x1="525.47" y1="1.60" x2="525.47" y2="3.80" stroke="#000" stroke-width="1.1" />
<line x1="527.81" y1="1.60" x2="527.81" y2="3.80" stroke="#000" stroke-width="1.1" />
<line x1="529.78" y1="1.60" x2="529.78" y2="3.80" stroke="#000" stroke-width="1.1" />
<line x1="531.49" y1="1.60" x2="531.49" y2="3.80" stroke="#000" stroke-width="1.1" />
<line x1="533.00" y1="1.60" x2="533.00" y2="3.80" stroke="#000" stroke-width="1.1" />
<line x1="534.35" y1="1.60" x2="534.35" y2="5.60" stroke="#000" stroke-width="1.1" />
<line x1="543.23" y1="1.60" x2="543.23" y2="3.80" stroke="#000" stroke-width="1.1" />
<line x1="548.43" y1="1.60" x2="548.43" y2="3.80" stroke="#000" stroke-width="1.1" />
<line x1="552.11" y1="1.60" x2="552.11" y2="3.80" stroke="#000" stroke-width="1.1" />
<line x1="554.97" y1="1.60" x2="554.97" y2="3.80" stroke="#000" stroke-width="1.1" />
<line x1="557.31" y1="1.60" x2="557.31" y2="3.80" stroke="#000" stroke-width="1.1" />
<line x1="559.28" y1="1.60" x2="559.28" y2="3.80" stroke="#000" stroke-width="1.1" />
<line x1="560.99" y1="1.60" x2="560.99" y2="3.80" stroke="#000" stroke-width="1.1" />
<line x1="562.50" y1="1.60" x2="562.50" y2="3.80" stroke="#000" stroke-width="1.1" />
<line x1="563.85" y1="1.60" x2="563.85" y2="5.60" stroke="#000" stroke-width="1.1" />
<line x1="572.73" y1="1.60" x2="572.73" y2="3.80" stroke="#000" stroke-width="1.1" />
<line x1="577.93" y1="1.60" x2="577.93" y2="3.80" stroke="#000" stroke-width="1.1" />
<line x1="581.61" y1="1.60" x2="581.61" y2="3.80" stroke="#000" stroke-width="1.1" />
<line x1="584.47" y1="1.60" x2="584.47" y2="3.80" stroke="#000" stroke-width="1.1" />
<line x1="586.81" y1="1.60" x2="586.81" y2="3.80" stroke="#000" stroke-width="1.1" />
<line x1="588.78" y1="1.60" x2="588.78" y2="3.80" stroke="#000" stroke-width="1.1" />
<line x1="590.49" y1="1.60" x2="590.49" y2="3.80" stroke="#000" stroke-width="1.1" />
<line x1="592.00" y1="1.60" x2="592.00" y2="3.80" stroke="#000" stroke-width="1.1" />
<line x1="593.35" y1="1.60" x2="593.35" y2="5.60" stroke="#000" stroke-width="1.1" />
<line x1="357.35" y1="175.80" x2="357.35" y2="183.80" stroke="#000" stroke-width="1.1" />
<line x1="366.23" y1="177.60" x2="366.23" y2="182.00" stroke="#000" stroke-width="1.1" />
<line x1="371.43" y1="177.60" x2="371.43" y2="182.00" stroke="#000" stroke-width="1.1" />
<line x1="375.11" y1="177.60" x2="375.11" y2="182.00" stroke="#000" stroke-width="1.1" />
<line x1="377.97" y1="177.60" x2="377.97" y2="182.00" stroke="#000" stroke-width="1.1" />
<line x1="380.31" y1="177.60" x2="380.31" y2="182.00" stroke="#000" stroke-width="1.1" />
<line x1="382.28" y1="177.60" x2="382.28" y2="182.00" stroke="#000" stroke-width="1.1" />
<line x1="383.99" y1="177.60" x2="383.99" y2="182.00" stroke="#000" stroke-width="1.1" />
<line x1="385.50" y1="177.60" x2="385.50" y2="182.00" stroke="#000" stroke-width="1.1" />
<line x1="386.85" y1="175.80" x2="386.85" y2="183.80" stroke="#000" stroke-width="1.1" />
<line x1="395.73" y1="177.60" x2="395.73" y2="182.00" stroke="#000" stroke-width="1.1" />
<line x1="400.93" y1="177.60" x2="400.93" y2="182.00" stroke="#000" stroke-width="1.1" />
<line x1="404.61" y1="177.60" x2="404.61" y2="182.00" stroke="#000" stroke-width="1.1" />
<line x1="407.47" y1="177.60" x2="407.47" y2="182.00" stroke="#000" stroke-width="1.1" />
<line x1="409.81" y1="177.60" x2="409.81" y2="182.00" stroke="#000" stroke-width="1.1" />
<line x1="411.78" y1="177.60" x2="411.78" y2="182.00" stroke="#000" stroke-width="1.1" />
<line x1="413.49" y1="177.60" x2="413.49" y2="182.00" stroke="#000" stroke-width="1.1" />
<line x1="415.00" y1="177.60" x2="415.00" y2="182.00" stroke="#000" stroke-width="1.1" />
<line x1="416.35" y1="175.80" x2="416.35" y2="183.80" stroke="#000" stroke-width="1.1" />
<line x1="425.23" y1="177.60" x2="425.23" y2="182.00" stroke="#000" stroke-width="1.1" />
<line x1="430.43" y1="177.60" x2="430.43" y2="182.00" stroke="#000" stroke-width="1.1" />
<line x1="434.11" y1="177.60" x2="434.11" y2="182.00" stroke="#000" stroke-width="1.1" />
<line x1="436.97" y1="177.60" x2="436.97" y2="182.00" stroke="#000" stroke-width="1.1" />
<line x1="439.31" y1="177.60" x2="439.31" y2="182.00" stroke="#000" stroke-width="1.1" />
<line x1="441.28" y1="177.60" x2="441.28" y2="182.00" stroke="#000" stroke-width="1.1" />
<line x1="442.99" y1="177.60" x2="442.99" y2="182.00" stroke="#000" stroke-width="1.1" />
<line x1="444.50" y1="177.60" x2="444.50" y2="182.00" stroke="#000" stroke-width="1.1" />
<line x1="445.85" y1="175.80" x2="445.85" y2="183.80" stroke="#000" stroke-width="1.1" />
<line x1="454.73" y1="177.60" x2="454.73" y2="182.00" stroke="#000" stroke-width="1.1" />
<line x1="459.93" y1="177.60" x2="459.93" y2="182.00" stroke="#000" stroke-width="1.1" />
<line x1="463.61" y1="177.60" x2="463.61" y2="182.00" stroke="#000" stroke-width="1.1" />
<line x1="466.47" y1="177.60" x2="466.47" y2="182.00" stroke="#000" stroke-width="1.1" />
<line x1="468.81" y1="177.60" x2="468.81" y2="182.00" stroke="#000" stroke-width="1.1" />
<line x1="470.78" y1="177.60" x2="470.78" y2="182.00" stroke="#000" stroke-width="1.1" />
<line x1="472.49" y1="177.60" x2="472.49" y2="182.00" stroke="#000" stroke-width="1.1" />
<line x1="474.00" y1="177.60" x2="474.00" y2="182.00" stroke="#000" stroke-width="1.1" />
<line x1="475.35" y1="175.80" x2="475.35" y2="183.80" stroke="#000" stroke-width="1.1" />
<line x1="484.23" y1="177.60" x2="484.23" y2="182.00" stroke="#000" stroke-width="1.1" />
<line x1="489.43" y1="177.60" x2="489.43" y2="182.00" stroke="#000" stroke-width="1.1" />
<line x1="493.11" y1="177.60" x2="493.11" y2="182.00" stroke="#000" stroke-width="1.1" />
<line x1="495.97" y1="177.60" x2="495.97" y2="182.00" stroke="#000" stroke-width="1.1" />
<line x1="498.31" y1="177.60" x2="498.31" y2="182.00" stroke="#000" stroke-width="1.1" />
<line x1="500.28" y1="177.60" x2="500.28" y2="182.00" stroke="#000" stroke-width="1.1" />
<line x1="501.99" y1="177.60" x2="501.99" y2="182.00" stroke="#000" stroke-width="1.1" />
<line x1="503.50" y1="177.60" x2="503.50" y2="182.00" stroke="#000" stroke-width="1.1" />
<line x1="504.85" y1="175.80" x2="504.85" y2="183.80" stroke="#000" stroke-width="1.1" />
<line x1="513.73" y1="177.60" x2="513.73" y2="182.00" stroke="#000" stroke-width="1.1" />
<line x1="518.93" y1="177.60" x2="518.93" y2="182.00" stroke="#000" stroke-width="1.1" />
<line x1="522.61" y1="177.60" x2="522.61" y2="182.00" stroke="#000" stroke-width="1.1" />
<line x1="525.47" y1="177.60" x2="525.47" y2="182.00" stroke="#000" stroke-width="1.1" />
<line x1="527.81" y1="177.60" x2="527.81" y2="182.00" stroke="#000" stroke-width="1.1" />
<line x1="529.78" y1="177.60" x2="529.78" y2="182.00" stroke="#000" stroke-width="1.1" />
<line x1="531.49" y1="177.60" x2="531.49" y2="182.00" stroke="#000" stroke-width="1.1" />
<line x1="533.00" y1="177.60" x2="533.00" y2="182.00" stroke="#000" stroke-width="1.1" />
<line x1="534.35" y1="175.80" x2="534.35" y2="183.80" stroke="#000" stroke-width="1.1" />
<line x1="543.23" y1="177.60" x2="543.23" y2="182.00" stroke="#000" stroke-width="1.1" />
<line x1="548.43" y1="177.60" x2="548.43" y2="182.00" stroke="#000" stroke-width="1.1" />
<line x1="552.11" y1="177.60" x2="552.11" y2="182.00" stroke="#000" stroke-width="1.1" />
<line x1="554.97" y1="177.60" x2="554.97" y2="182.00" stroke="#000" stroke-width="1.1" />
<line x1="557.31" y1="177.60" x2="557.31" y2="182.00" stroke="#000" stroke-width="1.1" />
<line x1="559.28" y1="177.60" x2="559.28" y2="182.00" stroke="#000" stroke-width="1.1" />
<line x1="560.99" y1="177.60" x2="560.99" y2="182.00" stroke="#000" stroke-width="1.1" />
<line x1="562.50" y1="177.60" x2="562.50" y2="182.00" stroke="#000" stroke-width="1.1" />
<line x1="563.85" y1="175.80" x2="563.85" y2="183.80" stroke="#000" stroke-width="1.1" />
<line x1="572.73" y1="177.60" x2="572.73" y2="182.00" stroke="#000" stroke-width="1.1" />
<line x1="577.93" y1="177.60" x2="577.93" y2="182.00" stroke="#000" stroke-width="1.1" />
<line x1="581.61" y1="177.60" x2="581.61" y2="182.00" stroke="#000" stroke-width="1.1" />
<line x1="584.47" y1="177.60" x2="584.47" y2="182.00" stroke="#000" stroke-width="1.1" />
<line x1="586.81" y1="177.60" x2="586.81" y2="182.00" stroke="#000" stroke-width="1.1" />
<line x1="588.78" y1="177.60" x2="588.78" y2="182.00" stroke="#000" stroke-width="1.1" />
<line x1="590.49" y1="177.60" x2="590.49" y2="182.00" stroke="#000" stroke-width="1.1" />
<line x1="592.00" y1="177.60" x2="592.00" y2="182.00" stroke="#000" stroke-width="1.1" />
<line x1="593.35" y1="175.80" x2="593.35" y2="183.80" stroke="#000" stroke-width="1.1" />
<text x="354.50" y="165.41" font-size="9.8" font-weight="bold" text-anchor="end" fill="#000" >350</text>
<text x="354.50" y="132.79" font-size="9.8" font-weight="bold" text-anchor="end" fill="#000" >400</text>
<text x="354.50" y="104.01" font-size="9.8" font-weight="bold" text-anchor="end" fill="#000" >450</text>
<text x="354.50" y="78.27" font-size="9.8" font-weight="bold" text-anchor="end" fill="#000" >500</text>
<text x="354.50" y="54.99" font-size="9.8" font-weight="bold" text-anchor="end" fill="#000" >550</text>
<text x="354.50" y="33.73" font-size="9.8" font-weight="bold" text-anchor="end" fill="#000" >600</text>
<text x="354.50" y="14.18" font-size="9.8" font-weight="bold" text-anchor="end" fill="#000" >650</text>
<line x1="357.20" y1="367.40" x2="360.80" y2="367.40" stroke="#000" stroke-width="1.35" />
<line x1="602.00" y1="367.40" x2="598.40" y2="367.40" stroke="#000" stroke-width="1.35" />
<line x1="357.20" y1="353.71" x2="359.60" y2="353.71" stroke="#000" stroke-width="1.35" />
<line x1="602.00" y1="353.71" x2="599.60" y2="353.71" stroke="#000" stroke-width="1.35" />
<line x1="357.20" y1="340.02" x2="360.80" y2="340.02" stroke="#000" stroke-width="1.35" />
<line x1="602.00" y1="340.02" x2="598.40" y2="340.02" stroke="#000" stroke-width="1.35" />
<line x1="357.20" y1="326.33" x2="359.60" y2="326.33" stroke="#000" stroke-width="1.35" />
<line x1="602.00" y1="326.33" x2="599.60" y2="326.33" stroke="#000" stroke-width="1.35" />
<line x1="357.20" y1="312.64" x2="360.80" y2="312.64" stroke="#000" stroke-width="1.35" />
<line x1="602.00" y1="312.64" x2="598.40" y2="312.64" stroke="#000" stroke-width="1.35" />
<line x1="357.20" y1="298.95" x2="359.60" y2="298.95" stroke="#000" stroke-width="1.35" />
<line x1="602.00" y1="298.95" x2="599.60" y2="298.95" stroke="#000" stroke-width="1.35" />
<line x1="357.20" y1="285.26" x2="360.80" y2="285.26" stroke="#000" stroke-width="1.35" />
<line x1="602.00" y1="285.26" x2="598.40" y2="285.26" stroke="#000" stroke-width="1.35" />
<line x1="357.20" y1="271.57" x2="359.60" y2="271.57" stroke="#000" stroke-width="1.35" />
<line x1="602.00" y1="271.57" x2="599.60" y2="271.57" stroke="#000" stroke-width="1.35" />
<line x1="357.20" y1="257.88" x2="360.80" y2="257.88" stroke="#000" stroke-width="1.35" />
<line x1="602.00" y1="257.88" x2="598.40" y2="257.88" stroke="#000" stroke-width="1.35" />
<line x1="357.20" y1="244.19" x2="359.60" y2="244.19" stroke="#000" stroke-width="1.35" />
<line x1="602.00" y1="244.19" x2="599.60" y2="244.19" stroke="#000" stroke-width="1.35" />
<line x1="357.20" y1="230.50" x2="360.80" y2="230.50" stroke="#000" stroke-width="1.35" />
<line x1="602.00" y1="230.50" x2="598.40" y2="230.50" stroke="#000" stroke-width="1.35" />
<line x1="357.20" y1="216.81" x2="359.60" y2="216.81" stroke="#000" stroke-width="1.35" />
<line x1="602.00" y1="216.81" x2="599.60" y2="216.81" stroke="#000" stroke-width="1.35" />
<line x1="357.20" y1="203.12" x2="360.80" y2="203.12" stroke="#000" stroke-width="1.35" />
<line x1="602.00" y1="203.12" x2="598.40" y2="203.12" stroke="#000" stroke-width="1.35" />
<line x1="357.20" y1="189.43" x2="359.60" y2="189.43" stroke="#000" stroke-width="1.35" />
<line x1="602.00" y1="189.43" x2="599.60" y2="189.43" stroke="#000" stroke-width="1.35" />
<line x1="357.35" y1="367.40" x2="357.35" y2="363.80" stroke="#000" stroke-width="1.1" />
<line x1="366.23" y1="367.40" x2="366.23" y2="365.30" stroke="#000" stroke-width="1.1" />
<line x1="371.43" y1="367.40" x2="371.43" y2="365.30" stroke="#000" stroke-width="1.1" />
<line x1="375.11" y1="367.40" x2="375.11" y2="365.30" stroke="#000" stroke-width="1.1" />
<line x1="377.97" y1="367.40" x2="377.97" y2="365.30" stroke="#000" stroke-width="1.1" />
<line x1="380.31" y1="367.40" x2="380.31" y2="365.30" stroke="#000" stroke-width="1.1" />
<line x1="382.28" y1="367.40" x2="382.28" y2="365.30" stroke="#000" stroke-width="1.1" />
<line x1="383.99" y1="367.40" x2="383.99" y2="365.30" stroke="#000" stroke-width="1.1" />
<line x1="385.50" y1="367.40" x2="385.50" y2="365.30" stroke="#000" stroke-width="1.1" />
<line x1="386.85" y1="367.40" x2="386.85" y2="363.80" stroke="#000" stroke-width="1.1" />
<line x1="395.73" y1="367.40" x2="395.73" y2="365.30" stroke="#000" stroke-width="1.1" />
<line x1="400.93" y1="367.40" x2="400.93" y2="365.30" stroke="#000" stroke-width="1.1" />
<line x1="404.61" y1="367.40" x2="404.61" y2="365.30" stroke="#000" stroke-width="1.1" />
<line x1="407.47" y1="367.40" x2="407.47" y2="365.30" stroke="#000" stroke-width="1.1" />
<line x1="409.81" y1="367.40" x2="409.81" y2="365.30" stroke="#000" stroke-width="1.1" />
<line x1="411.78" y1="367.40" x2="411.78" y2="365.30" stroke="#000" stroke-width="1.1" />
<line x1="413.49" y1="367.40" x2="413.49" y2="365.30" stroke="#000" stroke-width="1.1" />
<line x1="415.00" y1="367.40" x2="415.00" y2="365.30" stroke="#000" stroke-width="1.1" />
<line x1="416.35" y1="367.40" x2="416.35" y2="363.80" stroke="#000" stroke-width="1.1" />
<line x1="425.23" y1="367.40" x2="425.23" y2="365.30" stroke="#000" stroke-width="1.1" />
<line x1="430.43" y1="367.40" x2="430.43" y2="365.30" stroke="#000" stroke-width="1.1" />
<line x1="434.11" y1="367.40" x2="434.11" y2="365.30" stroke="#000" stroke-width="1.1" />
<line x1="436.97" y1="367.40" x2="436.97" y2="365.30" stroke="#000" stroke-width="1.1" />
<line x1="439.31" y1="367.40" x2="439.31" y2="365.30" stroke="#000" stroke-width="1.1" />
<line x1="441.28" y1="367.40" x2="441.28" y2="365.30" stroke="#000" stroke-width="1.1" />
<line x1="442.99" y1="367.40" x2="442.99" y2="365.30" stroke="#000" stroke-width="1.1" />
<line x1="444.50" y1="367.40" x2="444.50" y2="365.30" stroke="#000" stroke-width="1.1" />
<line x1="445.85" y1="367.40" x2="445.85" y2="363.80" stroke="#000" stroke-width="1.1" />
<line x1="454.73" y1="367.40" x2="454.73" y2="365.30" stroke="#000" stroke-width="1.1" />
<line x1="459.93" y1="367.40" x2="459.93" y2="365.30" stroke="#000" stroke-width="1.1" />
<line x1="463.61" y1="367.40" x2="463.61" y2="365.30" stroke="#000" stroke-width="1.1" />
<line x1="466.47" y1="367.40" x2="466.47" y2="365.30" stroke="#000" stroke-width="1.1" />
<line x1="468.81" y1="367.40" x2="468.81" y2="365.30" stroke="#000" stroke-width="1.1" />
<line x1="470.78" y1="367.40" x2="470.78" y2="365.30" stroke="#000" stroke-width="1.1" />
<line x1="472.49" y1="367.40" x2="472.49" y2="365.30" stroke="#000" stroke-width="1.1" />
<line x1="474.00" y1="367.40" x2="474.00" y2="365.30" stroke="#000" stroke-width="1.1" />
<line x1="475.35" y1="367.40" x2="475.35" y2="363.80" stroke="#000" stroke-width="1.1" />
<line x1="484.23" y1="367.40" x2="484.23" y2="365.30" stroke="#000" stroke-width="1.1" />
<line x1="489.43" y1="367.40" x2="489.43" y2="365.30" stroke="#000" stroke-width="1.1" />
<line x1="493.11" y1="367.40" x2="493.11" y2="365.30" stroke="#000" stroke-width="1.1" />
<line x1="495.97" y1="367.40" x2="495.97" y2="365.30" stroke="#000" stroke-width="1.1" />
<line x1="498.31" y1="367.40" x2="498.31" y2="365.30" stroke="#000" stroke-width="1.1" />
<line x1="500.28" y1="367.40" x2="500.28" y2="365.30" stroke="#000" stroke-width="1.1" />
<line x1="501.99" y1="367.40" x2="501.99" y2="365.30" stroke="#000" stroke-width="1.1" />
<line x1="503.50" y1="367.40" x2="503.50" y2="365.30" stroke="#000" stroke-width="1.1" />
<line x1="504.85" y1="367.40" x2="504.85" y2="363.80" stroke="#000" stroke-width="1.1" />
<line x1="513.73" y1="367.40" x2="513.73" y2="365.30" stroke="#000" stroke-width="1.1" />
<line x1="518.93" y1="367.40" x2="518.93" y2="365.30" stroke="#000" stroke-width="1.1" />
<line x1="522.61" y1="367.40" x2="522.61" y2="365.30" stroke="#000" stroke-width="1.1" />
<line x1="525.47" y1="367.40" x2="525.47" y2="365.30" stroke="#000" stroke-width="1.1" />
<line x1="527.81" y1="367.40" x2="527.81" y2="365.30" stroke="#000" stroke-width="1.1" />
<line x1="529.78" y1="367.40" x2="529.78" y2="365.30" stroke="#000" stroke-width="1.1" />
<line x1="531.49" y1="367.40" x2="531.49" y2="365.30" stroke="#000" stroke-width="1.1" />
<line x1="533.00" y1="367.40" x2="533.00" y2="365.30" stroke="#000" stroke-width="1.1" />
<line x1="534.35" y1="367.40" x2="534.35" y2="363.80" stroke="#000" stroke-width="1.1" />
<line x1="543.23" y1="367.40" x2="543.23" y2="365.30" stroke="#000" stroke-width="1.1" />
<line x1="548.43" y1="367.40" x2="548.43" y2="365.30" stroke="#000" stroke-width="1.1" />
<line x1="552.11" y1="367.40" x2="552.11" y2="365.30" stroke="#000" stroke-width="1.1" />
<line x1="554.97" y1="367.40" x2="554.97" y2="365.30" stroke="#000" stroke-width="1.1" />
<line x1="557.31" y1="367.40" x2="557.31" y2="365.30" stroke="#000" stroke-width="1.1" />
<line x1="559.28" y1="367.40" x2="559.28" y2="365.30" stroke="#000" stroke-width="1.1" />
<line x1="560.99" y1="367.40" x2="560.99" y2="365.30" stroke="#000" stroke-width="1.1" />
<line x1="562.50" y1="367.40" x2="562.50" y2="365.30" stroke="#000" stroke-width="1.1" />
<line x1="563.85" y1="367.40" x2="563.85" y2="363.80" stroke="#000" stroke-width="1.1" />
<line x1="572.73" y1="367.40" x2="572.73" y2="365.30" stroke="#000" stroke-width="1.1" />
<line x1="577.93" y1="367.40" x2="577.93" y2="365.30" stroke="#000" stroke-width="1.1" />
<line x1="581.61" y1="367.40" x2="581.61" y2="365.30" stroke="#000" stroke-width="1.1" />
<line x1="584.47" y1="367.40" x2="584.47" y2="365.30" stroke="#000" stroke-width="1.1" />
<line x1="586.81" y1="367.40" x2="586.81" y2="365.30" stroke="#000" stroke-width="1.1" />
<line x1="588.78" y1="367.40" x2="588.78" y2="365.30" stroke="#000" stroke-width="1.1" />
<line x1="590.49" y1="367.40" x2="590.49" y2="365.30" stroke="#000" stroke-width="1.1" />
<line x1="592.00" y1="367.40" x2="592.00" y2="365.30" stroke="#000" stroke-width="1.1" />
<line x1="593.35" y1="367.40" x2="593.35" y2="363.80" stroke="#000" stroke-width="1.1" />
<text x="353.90" y="205.72" font-size="9.8" font-weight="bold" text-anchor="end" fill="#000" >10</text>
<text x="353.90" y="233.10" font-size="9.8" font-weight="bold" text-anchor="end" fill="#000" >0</text>
<text x="353.90" y="260.48" font-size="9.8" font-weight="bold" text-anchor="end" fill="#000" >-10</text>
<text x="353.90" y="287.86" font-size="9.8" font-weight="bold" text-anchor="end" fill="#000" >-20</text>
<text x="353.90" y="315.24" font-size="9.8" font-weight="bold" text-anchor="end" fill="#000" >-30</text>
<text x="353.90" y="342.62" font-size="9.8" font-weight="bold" text-anchor="end" fill="#000" >-40</text>
<text x="353.90" y="370.00" font-size="9.8" font-weight="bold" text-anchor="end" fill="#000" >-50</text>
<text x="357.35" y="378.90" font-size="9.8" font-weight="bold" text-anchor="middle" fill="#000" >1E-8</text>
<text x="386.85" y="378.90" font-size="9.8" font-weight="bold" text-anchor="middle" fill="#000" >1E-7</text>
<text x="416.35" y="378.90" font-size="9.8" font-weight="bold" text-anchor="middle" fill="#000" >1E-6</text>
<text x="445.85" y="378.90" font-size="9.8" font-weight="bold" text-anchor="middle" fill="#000" >1E-5</text>
<text x="475.35" y="378.90" font-size="9.8" font-weight="bold" text-anchor="middle" fill="#000" >1E-4</text>
<text x="504.85" y="378.90" font-size="9.8" font-weight="bold" text-anchor="middle" fill="#000" >1E-3</text>
<text x="534.35" y="378.90" font-size="9.8" font-weight="bold" text-anchor="middle" fill="#000" >0.01</text>
<text x="563.85" y="378.90" font-size="9.8" font-weight="bold" text-anchor="middle" fill="#000" >0.1</text>
<text x="593.35" y="378.90" font-size="9.8" font-weight="bold" text-anchor="middle" fill="#000" >1</text>
<rect x="66.4" y="11.9" width="157.2" height="85.2" fill="#fff" stroke="#000" stroke-width="2.8"/>
<line x1="76.60" y1="91.50" x2="76.60" y2="25.50" stroke="#000" stroke-width="2.4" />
<polyline points="72.3,32.0 76.6,25.2 80.9,32.0" fill="none" stroke="#000" stroke-width="2.3" stroke-linecap="round" stroke-linejoin="miter"/>
<line x1="76.00" y1="66.00" x2="216.00" y2="66.00" stroke="#000" stroke-width="2.0" />
<polyline points="211,61.8 217.2,66 211,70.2" fill="none" stroke="#000" stroke-width="2.2" stroke-linecap="round" stroke-linejoin="miter"/>
<text transform="translate(85.1,32.6) scale(0.66,1)" font-size="16.5" font-weight="normal" stroke="#000" stroke-width="0.6">J</text>
<text x="68.60" y="70.50" font-size="11" font-weight="bold" text-anchor="start" fill="#000" >0</text>
<text x="204.00" y="85.30" font-size="14.5" font-weight="bold" text-anchor="start" fill="#000" >t</text>
<rect x="81.75" y="60.35" width="3.50" height="5.65" fill="#fff" stroke="#000" stroke-width="1.3"/>
<rect x="88.30" y="61.6" width="5.20" height="4.4" fill="#000"/>
<rect x="96.55" y="66" width="3.90" height="6.75" fill="#fff" stroke="#000" stroke-width="1.3"/>
<rect x="103.20" y="61.6" width="5.60" height="4.4" fill="#f00"/>
<rect x="111.95" y="54.25" width="4.00" height="11.75" fill="#fff" stroke="#000" stroke-width="1.3"/>
<rect x="119.80" y="61.6" width="5.20" height="4.4" fill="#000"/>
<rect x="129.25" y="66" width="4.00" height="12.25" fill="#fff" stroke="#000" stroke-width="1.3"/>
<rect x="137.00" y="61.6" width="5.90" height="4.4" fill="#f00"/>
<rect x="147.15" y="48.45" width="3.70" height="17.55" fill="#fff" stroke="#000" stroke-width="1.3"/>
<rect x="154.90" y="61.6" width="5.30" height="4.4" fill="#000"/>
<rect x="162.85" y="66" width="3.90" height="17.95" fill="#fff" stroke="#000" stroke-width="1.3"/>
<rect x="169.20" y="61.6" width="5.50" height="4.4" fill="#f00"/>
<rect x="177.95" y="41.95" width="4.10" height="24.05" fill="#fff" stroke="#000" stroke-width="1.3"/>
<rect x="184.10" y="61.6" width="5.50" height="4.4" fill="#000"/>
<rect x="191.85" y="66" width="3.70" height="23.95" fill="#fff" stroke="#000" stroke-width="1.3"/>
<rect x="198.20" y="61.6" width="5.80" height="4.4" fill="#f00"/>
<rect x="367.6" y="8.6" width="163.9" height="85.0" fill="#fff" stroke="#000" stroke-width="3.0"/>
<line x1="377.90" y1="87.00" x2="377.90" y2="18.00" stroke="#000" stroke-width="2.4" />
<polyline points="373.6,24.5 377.9,17.6 382.2,24.5" fill="none" stroke="#000" stroke-width="2.3" stroke-linecap="round" stroke-linejoin="miter"/>
<line x1="377.00" y1="58.50" x2="527.00" y2="58.50" stroke="#000" stroke-width="2.0" />
<polyline points="522,54.3 528.2,58.5 522,62.7" fill="none" stroke="#000" stroke-width="2.2" stroke-linecap="round" stroke-linejoin="miter"/>
<text x="386.60" y="25.00" font-size="16.2" font-weight="normal" text-anchor="start" fill="#000" stroke="#000" stroke-width="0.55">U</text>
<text x="370.00" y="63.00" font-size="10" font-weight="bold" text-anchor="start" fill="#000" >0</text>
<text x="516.80" y="77.50" font-size="14" font-weight="bold" text-anchor="start" fill="#000" >t</text>
<rect x="382.50" y="36.60" width="3.00" height="21.30" fill="#fff" stroke="#000" stroke-width="1.3"/>
<rect x="397.20" y="59.10" width="7.00" height="20.40" fill="#fff" stroke="#000" stroke-width="1.3"/>
<rect x="414.80" y="37.20" width="13.50" height="20.70" fill="#fff" stroke="#000" stroke-width="1.3"/>
<rect x="437.50" y="59.10" width="22.40" height="19.90" fill="#fff" stroke="#000" stroke-width="1.3"/>
<rect x="470.40" y="37.40" width="36.80" height="20.50" fill="#fff" stroke="#000" stroke-width="1.3"/>
<rect x="389.4" y="53.2" width="4.70" height="5.3" fill="#000"/>
<rect x="406.8" y="53.2" width="4.70" height="5.3" fill="#f00"/>
<rect x="431.3" y="53.2" width="4.80" height="5.3" fill="#000"/>
<rect x="461.5" y="53.2" width="5.30" height="5.3" fill="#f00"/>
<rect x="510.8" y="53.2" width="5.00" height="5.3" fill="#000"/>
<text x="0.50" y="25.50" font-size="25" font-weight="bold" text-anchor="start" fill="#000" >(a)</text>
<text x="300.50" y="21.90" font-size="25.3" font-weight="bold" text-anchor="start" fill="#000" >(b)</text>
<text x="0.50" y="206.00" font-size="25.3" font-weight="bold" text-anchor="start" fill="#000" >(c)</text>
<text x="300.80" y="201.90" font-size="25.3" font-weight="bold" text-anchor="start" fill="#000" >(d)</text>
<text transform="translate(216.8,124.4) scale(0.895,1)" font-size="22.3" font-weight="bold" fill="#f00" stroke="#f00" stroke-width="0.25">R</text>
<rect x="232.5" y="112.40" width="4.40" height="2.0" fill="#f00"/>
<text transform="translate(269.9,160.0) scale(0.895,1)" font-size="22.3" font-weight="bold" fill="#000" stroke="#000" stroke-width="0.25">R</text>
<rect x="285.50" y="149.45" width="7.0" height="1.9" fill="#000"/>
<rect x="288.05" y="146.90" width="1.9" height="7.0" fill="#000"/>
<text transform="translate(553.2,53.7) scale(0.895,1)" font-size="22.3" font-weight="bold" fill="#f00" stroke="#f00" stroke-width="0.25">R</text>
<rect x="569.0" y="41.60" width="4.00" height="2.0" fill="#f00"/>
<text transform="translate(565.5,166.3) scale(0.895,1)" font-size="22.3" font-weight="bold" fill="#000" stroke="#000" stroke-width="0.25">R</text>
<rect x="581.30" y="155.85" width="7.0" height="1.9" fill="#000"/>
<rect x="583.85" y="153.30" width="1.9" height="7.0" fill="#000"/>
<text transform="translate(25.4,115) rotate(-90)" font-size="12.5" font-weight="bold">R [<tspan font-weight="normal">Ω</tspan>]</text>
<text transform="translate(325,97) rotate(-90)" font-size="12" font-weight="bold">R [<tspan font-weight="normal">Ω</tspan>]</text>
<text transform="translate(31.2,317.3) rotate(-90)" font-size="12.5" font-weight="bold" textLength="65.6"><tspan font-weight="normal">Δ</tspan>R <tspan font-weight="normal">/</tspan> R<tspan font-size="7" dy="-5.5">-</tspan><tspan dy="5.5"> [<tspan font-weight="normal">%</tspan>]</tspan></text>
<text transform="translate(325.0,314.9) rotate(-90)" font-size="12.5" font-weight="bold" textLength="66"><tspan font-weight="normal">Δ</tspan>R <tspan font-weight="normal">/</tspan> R<tspan font-size="7" dy="-5.5">-</tspan><tspan dy="5.5"> [<tspan font-weight="normal">%</tspan>]</tspan></text>
<text x="134.60" y="399.00" font-size="12.5" font-weight="bold" text-anchor="start" fill="#000" >|J|</text>
<text x="151.40" y="399.00" font-size="12.5" font-weight="bold" text-anchor="start" fill="#000" >[10</text>
<text x="167.60" y="391.60" font-size="8" font-weight="bold" text-anchor="start" fill="#000" >+10</text>
<text x="184.40" y="399.00" font-size="12.5" font-weight="bold" text-anchor="start" fill="#000" textLength="21.6" lengthAdjust="spacingAndGlyphs">A/m</text>
<text x="206.00" y="391.40" font-size="8" font-weight="bold" text-anchor="start" fill="#000" >2</text>
<text x="209.80" y="399.00" font-size="12.5" font-weight="bold" text-anchor="start" fill="#000" >]</text>
<text x="468.30" y="394.20" font-size="13" font-weight="bold" text-anchor="start" fill="#000" >t</text>
<text x="473.40" y="400.40" font-size="8.5" font-weight="normal" text-anchor="start" fill="#000" font-style="italic">p</text>
<text x="480.80" y="394.20" font-size="13" font-weight="bold" text-anchor="start" fill="#000" textLength="14.6" lengthAdjust="spacingAndGlyphs">[s]</text>
</svg></body></html>
